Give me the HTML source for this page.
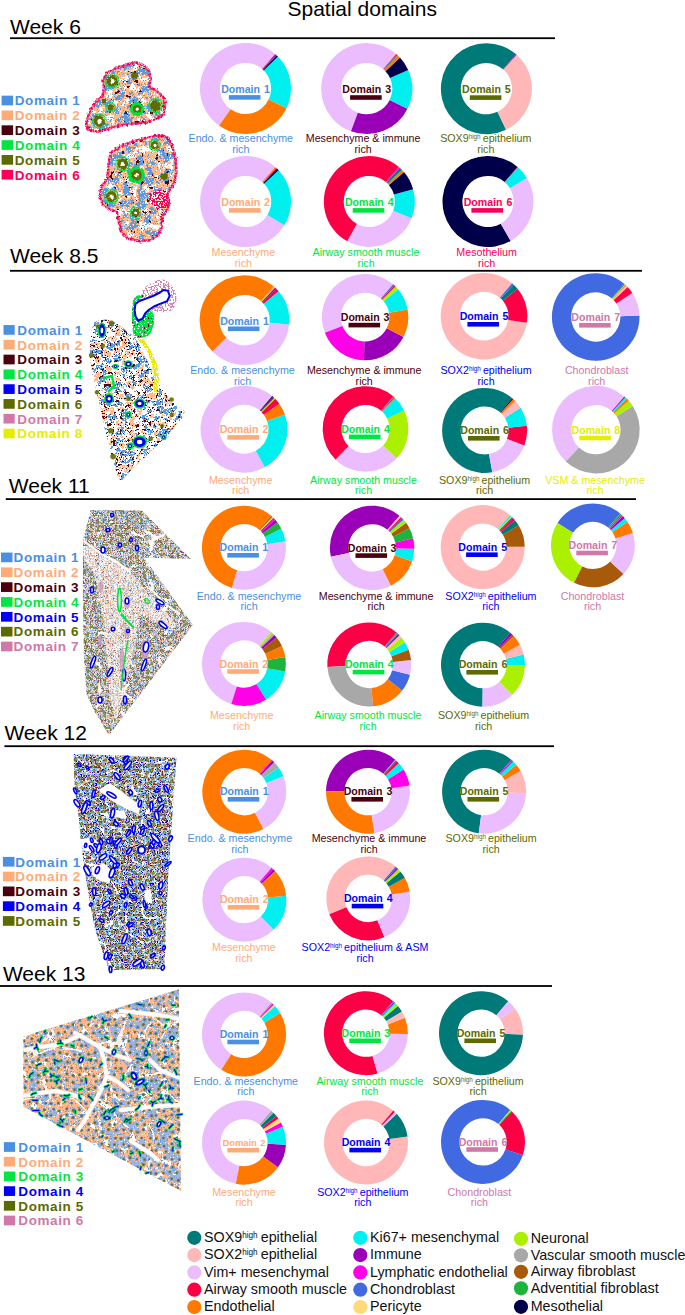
<!DOCTYPE html>
<html><head><meta charset="utf-8"><style>
html,body{margin:0;padding:0;background:#fff;}
body{width:685px;height:1315px;overflow:hidden;}
svg{display:block;font-family:"Liberation Sans",sans-serif;}
</style></head><body>
<svg width="685" height="1315" viewBox="0 0 685 1315">
<text x="287.5" y="15.5" font-size="21" fill="#000">Spatial domains</text>
<text x="10" y="34" font-size="21" fill="#000">Week 6</text><rect x="10" y="37.3" width="545" height="1.8" fill="#000"/>
<text x="10" y="262.8" font-size="21" fill="#000">Week 8.5</text><rect x="10" y="269.9" width="632" height="1.8" fill="#000"/>
<text x="8.8" y="493.4" font-size="21" fill="#000">Week 11</text><rect x="5.8" y="498.2" width="630.2" height="1.8" fill="#000"/>
<text x="4.4" y="739.9" font-size="21" fill="#000">Week 12</text><rect x="4.4" y="745.3" width="549.6" height="1.8" fill="#000"/>
<text x="2.9" y="980.7" font-size="21" fill="#000">Week 13</text><rect x="0" y="985.1" width="552" height="1.8" fill="#000"/>
<rect x="1.6" y="95.65" width="11.5" height="9.7" fill="#4a90e2"/>
<text x="14.7" y="105.30" font-size="13.5" letter-spacing="0.6" font-weight="bold" fill="#4a90e2">Domain 1</text>
<rect x="1.6" y="110.49" width="11.5" height="9.7" fill="#ffab78"/>
<text x="14.7" y="120.14" font-size="13.5" letter-spacing="0.6" font-weight="bold" fill="#ffab78">Domain 2</text>
<rect x="1.6" y="125.33" width="11.5" height="9.7" fill="#4a000e"/>
<text x="14.7" y="134.98" font-size="13.5" letter-spacing="0.6" font-weight="bold" fill="#4a000e">Domain 3</text>
<rect x="1.6" y="140.17" width="11.5" height="9.7" fill="#00e640"/>
<text x="14.7" y="149.82" font-size="13.5" letter-spacing="0.6" font-weight="bold" fill="#00e640">Domain 4</text>
<rect x="1.6" y="155.01" width="11.5" height="9.7" fill="#5c6a00"/>
<text x="14.7" y="164.66" font-size="13.5" letter-spacing="0.6" font-weight="bold" fill="#5c6a00">Domain 5</text>
<rect x="1.6" y="169.85" width="11.5" height="9.7" fill="#fb0058"/>
<text x="14.7" y="179.50" font-size="13.5" letter-spacing="0.6" font-weight="bold" fill="#fb0058">Domain 6</text>
<rect x="3.5" y="325.05" width="11.2" height="9.7" fill="#4a90e2"/>
<text x="17.3" y="334.70" font-size="13.5" letter-spacing="0.6" font-weight="bold" fill="#4a90e2">Domain 1</text>
<rect x="3.5" y="339.85" width="11.2" height="9.7" fill="#ffab78"/>
<text x="17.3" y="349.50" font-size="13.5" letter-spacing="0.6" font-weight="bold" fill="#ffab78">Domain 2</text>
<rect x="3.5" y="354.65" width="11.2" height="9.7" fill="#4a000e"/>
<text x="17.3" y="364.30" font-size="13.5" letter-spacing="0.6" font-weight="bold" fill="#4a000e">Domain 3</text>
<rect x="3.5" y="369.45" width="11.2" height="9.7" fill="#00e640"/>
<text x="17.3" y="379.10" font-size="13.5" letter-spacing="0.6" font-weight="bold" fill="#00e640">Domain 4</text>
<rect x="3.5" y="384.25" width="11.2" height="9.7" fill="#0000f5"/>
<text x="17.3" y="393.90" font-size="13.5" letter-spacing="0.6" font-weight="bold" fill="#0000f5">Domain 5</text>
<rect x="3.5" y="399.05" width="11.2" height="9.7" fill="#5c6a00"/>
<text x="17.3" y="408.70" font-size="13.5" letter-spacing="0.6" font-weight="bold" fill="#5c6a00">Domain 6</text>
<rect x="3.5" y="413.85" width="11.2" height="9.7" fill="#d078a8"/>
<text x="17.3" y="423.50" font-size="13.5" letter-spacing="0.6" font-weight="bold" fill="#d078a8">Domain 7</text>
<rect x="3.5" y="428.65" width="11.2" height="9.7" fill="#e6ee00"/>
<text x="17.3" y="438.30" font-size="13.5" letter-spacing="0.6" font-weight="bold" fill="#e6ee00">Domain 8</text>
<rect x="1" y="552.55" width="11.5" height="9.7" fill="#4a90e2"/>
<text x="13.6" y="562.20" font-size="13.5" letter-spacing="0.6" font-weight="bold" fill="#4a90e2">Domain 1</text>
<rect x="1" y="567.40" width="11.5" height="9.7" fill="#ffab78"/>
<text x="13.6" y="577.05" font-size="13.5" letter-spacing="0.6" font-weight="bold" fill="#ffab78">Domain 2</text>
<rect x="1" y="582.25" width="11.5" height="9.7" fill="#4a000e"/>
<text x="13.6" y="591.90" font-size="13.5" letter-spacing="0.6" font-weight="bold" fill="#4a000e">Domain 3</text>
<rect x="1" y="597.10" width="11.5" height="9.7" fill="#00e640"/>
<text x="13.6" y="606.75" font-size="13.5" letter-spacing="0.6" font-weight="bold" fill="#00e640">Domain 4</text>
<rect x="1" y="611.95" width="11.5" height="9.7" fill="#0000f5"/>
<text x="13.6" y="621.60" font-size="13.5" letter-spacing="0.6" font-weight="bold" fill="#0000f5">Domain 5</text>
<rect x="1" y="626.80" width="11.5" height="9.7" fill="#5c6a00"/>
<text x="13.6" y="636.45" font-size="13.5" letter-spacing="0.6" font-weight="bold" fill="#5c6a00">Domain 6</text>
<rect x="1" y="641.65" width="11.5" height="9.7" fill="#d078a8"/>
<text x="13.6" y="651.30" font-size="13.5" letter-spacing="0.6" font-weight="bold" fill="#d078a8">Domain 7</text>
<rect x="2.9" y="856.90" width="11.6" height="9.7" fill="#4a90e2"/>
<text x="15.3" y="866.55" font-size="13.5" letter-spacing="0.6" font-weight="bold" fill="#4a90e2">Domain 1</text>
<rect x="2.9" y="871.70" width="11.6" height="9.7" fill="#ffab78"/>
<text x="15.3" y="881.35" font-size="13.5" letter-spacing="0.6" font-weight="bold" fill="#ffab78">Domain 2</text>
<rect x="2.9" y="886.50" width="11.6" height="9.7" fill="#4a000e"/>
<text x="15.3" y="896.15" font-size="13.5" letter-spacing="0.6" font-weight="bold" fill="#4a000e">Domain 3</text>
<rect x="2.9" y="901.30" width="11.6" height="9.7" fill="#0000f5"/>
<text x="15.3" y="910.95" font-size="13.5" letter-spacing="0.6" font-weight="bold" fill="#0000f5">Domain 4</text>
<rect x="2.9" y="916.10" width="11.6" height="9.7" fill="#5c6a00"/>
<text x="15.3" y="925.75" font-size="13.5" letter-spacing="0.6" font-weight="bold" fill="#5c6a00">Domain 5</text>
<rect x="3.9" y="1142.15" width="11.2" height="9.7" fill="#4a90e2"/>
<text x="18.3" y="1151.80" font-size="13.5" letter-spacing="0.6" font-weight="bold" fill="#4a90e2">Domain 1</text>
<rect x="3.9" y="1156.85" width="11.2" height="9.7" fill="#ffab78"/>
<text x="18.3" y="1166.50" font-size="13.5" letter-spacing="0.6" font-weight="bold" fill="#ffab78">Domain 2</text>
<rect x="3.9" y="1171.55" width="11.2" height="9.7" fill="#00e640"/>
<text x="18.3" y="1181.20" font-size="13.5" letter-spacing="0.6" font-weight="bold" fill="#00e640">Domain 3</text>
<rect x="3.9" y="1186.25" width="11.2" height="9.7" fill="#0000f5"/>
<text x="18.3" y="1195.90" font-size="13.5" letter-spacing="0.6" font-weight="bold" fill="#0000f5">Domain 4</text>
<rect x="3.9" y="1200.95" width="11.2" height="9.7" fill="#5c6a00"/>
<text x="18.3" y="1210.60" font-size="13.5" letter-spacing="0.6" font-weight="bold" fill="#5c6a00">Domain 5</text>
<rect x="3.9" y="1215.65" width="11.2" height="9.7" fill="#d078a8"/>
<text x="18.3" y="1225.30" font-size="13.5" letter-spacing="0.6" font-weight="bold" fill="#d078a8">Domain 6</text>
<path d="M275.05,53.90A45.5,45.5 0 1,0 219.08,125.54L230.62,109.35A25.6165,25.6165 0 1,1 262.14,69.02Z" fill="#ebbdff"/>
<path d="M219.08,125.54A45.5,45.5 0 0,0 286.57,108.09L268.62,99.53A25.6165,25.6165 0 0,1 230.62,109.35Z" fill="#ff7800"/>
<path d="M286.57,108.09A45.5,45.5 0 0,0 277.95,56.61L263.77,70.55A25.6165,25.6165 0 0,1 268.62,99.53Z" fill="#00f0f0"/>
<path d="M277.95,56.61A45.5,45.5 0 0,0 276.53,55.22L262.97,69.77A25.6165,25.6165 0 0,1 263.77,70.55Z" fill="#00004a"/>
<path d="M276.53,55.22A45.5,45.5 0 0,0 275.65,54.42L262.47,69.31A25.6165,25.6165 0 0,1 262.97,69.77Z" fill="#9900b8"/>
<path d="M275.65,54.42A45.5,45.5 0 0,0 275.05,53.90L262.14,69.02A25.6165,25.6165 0 0,1 262.47,69.31Z" fill="#fb0045"/>
<text x="245.5" y="93.1" font-size="10.6" font-weight="bold" text-anchor="middle" fill="#4a90e2" word-spacing="1">Domain 1</text>
<rect x="228.9" y="95.1" width="31.6" height="4.6" fill="#4a90e2"/>
<text x="240.8" y="142.3" font-size="10.7" text-anchor="middle" fill="#4a90e2">Endo. &amp; mesenchyme</text>
<text x="240.8" y="153.0" font-size="10.7" text-anchor="middle" fill="#4a90e2">rich</text>
<path d="M396.25,54.00A45.5,45.5 0 1,0 350.99,131.30L357.85,112.64A25.6165,25.6165 0 1,1 383.34,69.12Z" fill="#ebbdff"/>
<path d="M350.99,131.30A45.5,45.5 0 0,0 407.53,108.69L389.68,99.91A25.6165,25.6165 0 0,1 357.85,112.64Z" fill="#9900b8"/>
<path d="M407.53,108.69A45.5,45.5 0 0,0 408.17,69.88L390.05,78.06A25.6165,25.6165 0 0,1 389.68,99.91Z" fill="#00f0f0"/>
<path d="M408.17,69.88A45.5,45.5 0 0,0 399.98,57.57L385.43,71.13A25.6165,25.6165 0 0,1 390.05,78.06Z" fill="#00004a"/>
<path d="M399.98,57.57A45.5,45.5 0 0,0 397.61,55.22L384.10,69.80A25.6165,25.6165 0 0,1 385.43,71.13Z" fill="#ff7800"/>
<path d="M397.61,55.22A45.5,45.5 0 0,0 396.85,54.52L383.67,69.41A25.6165,25.6165 0 0,1 384.10,69.80Z" fill="#007a78"/>
<path d="M396.85,54.52A45.5,45.5 0 0,0 396.25,54.00L383.34,69.12A25.6165,25.6165 0 0,1 383.67,69.41Z" fill="#fb0045"/>
<text x="366.7" y="93.2" font-size="10.6" font-weight="bold" text-anchor="middle" fill="#4a000e" word-spacing="1">Domain 3</text>
<rect x="350.1" y="95.2" width="31.6" height="4.6" fill="#4a000e"/>
<text x="363.1" y="142.3" font-size="10.7" text-anchor="middle" fill="#4a000e">Mesenchyme &amp; immune</text>
<text x="363.1" y="153.0" font-size="10.7" text-anchor="middle" fill="#4a000e">rich</text>
<path d="M515.95,54.10A45.5,45.5 0 1,0 506.06,129.73L497.47,111.80A25.6165,25.6165 0 1,1 503.04,69.22Z" fill="#007a78"/>
<path d="M506.06,129.73A45.5,45.5 0 0,0 516.61,54.68L503.41,69.54A25.6165,25.6165 0 0,1 497.47,111.80Z" fill="#ffb7b7"/>
<path d="M516.61,54.68A45.5,45.5 0 0,0 515.95,54.10L503.04,69.22A25.6165,25.6165 0 0,1 503.41,69.54Z" fill="#9900b8"/>
<text x="486.4" y="93.3" font-size="10.6" font-weight="bold" text-anchor="middle" fill="#5c6a00" word-spacing="1">Domain 5</text>
<rect x="469.8" y="95.3" width="31.6" height="4.6" fill="#5c6a00"/>
<text x="485.8" y="142.3" font-size="10.7" text-anchor="middle" fill="#5c6a00">SOX9<tspan font-size="6.3" dy="-3.0">high</tspan><tspan dy="3.0" font-size="7.5"> </tspan>epithelium</text>
<text x="485.8" y="153.0" font-size="10.7" text-anchor="middle" fill="#5c6a00">rich</text>
<path d="M275.15,166.90A45.5,45.5 0 1,0 284.40,225.27L267.44,214.88A25.6165,25.6165 0 1,1 262.24,182.02Z" fill="#ebbdff"/>
<path d="M284.40,225.27A45.5,45.5 0 0,0 278.60,170.18L264.18,183.87A25.6165,25.6165 0 0,1 267.44,214.88Z" fill="#00f0f0"/>
<path d="M278.60,170.18A45.5,45.5 0 0,0 276.92,168.50L263.23,182.92A25.6165,25.6165 0 0,1 264.18,183.87Z" fill="#00004a"/>
<path d="M276.92,168.50A45.5,45.5 0 0,0 276.05,167.69L262.74,182.46A25.6165,25.6165 0 0,1 263.23,182.92Z" fill="#fb0045"/>
<path d="M276.05,167.69A45.5,45.5 0 0,0 275.15,166.90L262.24,182.02A25.6165,25.6165 0 0,1 262.74,182.46Z" fill="#ff7800"/>
<text x="245.6" y="206.1" font-size="10.6" font-weight="bold" text-anchor="middle" fill="#ffab78" word-spacing="1">Domain 2</text>
<rect x="229.0" y="208.1" width="31.6" height="4.6" fill="#ffab78"/>
<text x="243.4" y="255.8" font-size="10.7" text-anchor="middle" fill="#ffab78">Mesenchyme</text>
<text x="243.4" y="266.5" font-size="10.7" text-anchor="middle" fill="#ffab78">rich</text>
<path d="M398.85,166.90A45.5,45.5 0 1,0 347.37,241.37L356.96,223.95A25.6165,25.6165 0 1,1 385.94,182.02Z" fill="#fb0045"/>
<path d="M347.37,241.37A45.5,45.5 0 0,0 411.65,218.14L393.14,210.87A25.6165,25.6165 0 0,1 356.96,223.95Z" fill="#ebbdff"/>
<path d="M411.65,218.14A45.5,45.5 0 0,0 413.11,189.20L393.96,194.58A25.6165,25.6165 0 0,1 393.14,210.87Z" fill="#00f0f0"/>
<path d="M413.11,189.20A45.5,45.5 0 0,0 404.02,172.09L388.85,184.94A25.6165,25.6165 0 0,1 393.96,194.58Z" fill="#00004a"/>
<path d="M404.02,172.09A45.5,45.5 0 0,0 401.87,169.73L387.64,183.62A25.6165,25.6165 0 0,1 388.85,184.94Z" fill="#ff7800"/>
<path d="M401.87,169.73A45.5,45.5 0 0,0 399.75,167.69L386.44,182.46A25.6165,25.6165 0 0,1 387.64,183.62Z" fill="#007a78"/>
<path d="M399.75,167.69A45.5,45.5 0 0,0 398.85,166.90L385.94,182.02A25.6165,25.6165 0 0,1 386.44,182.46Z" fill="#ff00e8"/>
<text x="369.3" y="206.1" font-size="10.6" font-weight="bold" text-anchor="middle" fill="#00e640" word-spacing="1">Domain 4</text>
<rect x="352.7" y="208.1" width="31.6" height="4.6" fill="#00e640"/>
<text x="366.0" y="255.8" font-size="10.7" text-anchor="middle" fill="#00e640">Airway smooth muscle</text>
<text x="366.0" y="266.5" font-size="10.7" text-anchor="middle" fill="#00e640">rich</text>
<path d="M517.55,166.90A45.5,45.5 0 1,0 510.68,240.94L500.77,223.71A25.6165,25.6165 0 1,1 504.64,182.02Z" fill="#00004a"/>
<path d="M510.68,240.94A45.5,45.5 0 0,0 526.92,177.93L509.91,188.23A25.6165,25.6165 0 0,1 500.77,223.71Z" fill="#ebbdff"/>
<path d="M526.92,177.93A45.5,45.5 0 0,0 517.97,167.27L504.87,182.23A25.6165,25.6165 0 0,1 509.91,188.23Z" fill="#00f0f0"/>
<path d="M517.97,167.27A45.5,45.5 0 0,0 517.55,166.90L504.64,182.02A25.6165,25.6165 0 0,1 504.87,182.23Z" fill="#fb0045"/>
<text x="488.0" y="206.1" font-size="10.6" font-weight="bold" text-anchor="middle" fill="#fb0058" word-spacing="1">Domain 6</text>
<rect x="471.4" y="208.1" width="31.6" height="4.6" fill="#fb0058"/>
<text x="486.6" y="255.8" font-size="10.7" text-anchor="middle" fill="#fb0058">Mesothelium</text>
<text x="486.6" y="266.5" font-size="10.7" text-anchor="middle" fill="#fb0058">rich</text>
<path d="M273.60,286.13A44.8,44.8 0 0,0 212.53,351.59L226.50,337.87A25.222399999999997,25.222399999999997 0 0,1 260.88,301.02Z" fill="#ff7800"/>
<path d="M212.53,351.59A44.8,44.8 0 0,0 289.08,324.61L269.60,322.68A25.222399999999997,25.222399999999997 0 0,1 226.50,337.87Z" fill="#ebbdff"/>
<path d="M289.08,324.61A44.8,44.8 0 0,0 278.59,291.13L263.69,303.83A25.222399999999997,25.222399999999997 0 0,1 269.60,322.68Z" fill="#00f0f0"/>
<path d="M278.59,291.13A44.8,44.8 0 0,0 276.47,288.81L262.50,302.53A25.222399999999997,25.222399999999997 0 0,1 263.69,303.83Z" fill="#fb0045"/>
<path d="M276.47,288.81A44.8,44.8 0 0,0 275.06,287.44L261.71,301.76A25.222399999999997,25.222399999999997 0 0,1 262.50,302.53Z" fill="#9900b8"/>
<path d="M275.06,287.44A44.8,44.8 0 0,0 274.19,286.65L261.21,301.31A25.222399999999997,25.222399999999997 0 0,1 261.71,301.76Z" fill="#aaf000"/>
<path d="M274.19,286.65A44.8,44.8 0 0,0 273.60,286.13L260.88,301.02A25.222399999999997,25.222399999999997 0 0,1 261.21,301.31Z" fill="#ff7800"/>
<text x="244.5" y="324.6" font-size="10.6" font-weight="bold" text-anchor="middle" fill="#4a90e2" word-spacing="1">Domain 1</text>
<rect x="227.9" y="326.5" width="31.6" height="4.6" fill="#4a90e2"/>
<text x="242.5" y="373.8" font-size="10.7" text-anchor="middle" fill="#4a90e2">Endo. &amp; mesenchyme</text>
<text x="242.5" y="384.5" font-size="10.7" text-anchor="middle" fill="#4a90e2">rich</text>
<path d="M393.16,284.25A43.2,43.2 0 0,0 324.87,332.85L342.45,325.97A24.3216,24.3216 0 0,1 380.90,298.61Z" fill="#ebbdff"/>
<path d="M324.87,332.85A43.2,43.2 0 0,0 363.91,360.28L364.43,341.41A24.3216,24.3216 0 0,1 342.45,325.97Z" fill="#ff00e8"/>
<path d="M363.91,360.28A43.2,43.2 0 0,0 403.51,336.88L386.72,328.23A24.3216,24.3216 0 0,1 364.43,341.41Z" fill="#9900b8"/>
<path d="M403.51,336.88A43.2,43.2 0 0,0 407.62,309.47L389.04,312.80A24.3216,24.3216 0 0,1 386.72,328.23Z" fill="#ff7800"/>
<path d="M407.62,309.47A43.2,43.2 0 0,0 398.05,289.16L383.65,301.37A24.3216,24.3216 0 0,1 389.04,312.80Z" fill="#00f0f0"/>
<path d="M398.05,289.16A43.2,43.2 0 0,0 395.49,286.39L382.21,299.81A24.3216,24.3216 0 0,1 383.65,301.37Z" fill="#aaf000"/>
<path d="M395.49,286.39A43.2,43.2 0 0,0 394.29,285.25L381.53,299.17A24.3216,24.3216 0 0,1 382.21,299.81Z" fill="#fb0045"/>
<path d="M394.29,285.25A43.2,43.2 0 0,0 393.16,284.25L380.90,298.61A24.3216,24.3216 0 0,1 381.53,299.17Z" fill="#4169e1"/>
<text x="365.1" y="321.0" font-size="10.6" font-weight="bold" text-anchor="middle" fill="#4a000e" word-spacing="1">Domain 3</text>
<rect x="348.5" y="322.8" width="31.6" height="4.6" fill="#4a000e"/>
<text x="364.2" y="373.8" font-size="10.7" text-anchor="middle" fill="#4a000e">Mesenchyme &amp; immune</text>
<text x="364.2" y="384.5" font-size="10.7" text-anchor="middle" fill="#4a000e">rich</text>
<path d="M512.12,283.27A43.3,43.3 0 1,0 526.80,322.76L508.10,319.89A24.377899999999997,24.377899999999997 0 1,1 499.83,297.66Z" fill="#ffb7b7"/>
<path d="M526.80,322.76A43.3,43.3 0 0,0 517.56,288.83L502.89,300.79A24.377899999999997,24.377899999999997 0 0,1 508.10,319.89Z" fill="#fb0045"/>
<path d="M517.56,288.83A43.3,43.3 0 0,0 513.75,284.74L500.75,298.49A24.377899999999997,24.377899999999997 0 0,1 502.89,300.79Z" fill="#007a78"/>
<path d="M513.75,284.74A43.3,43.3 0 0,0 512.12,283.27L499.83,297.66A24.377899999999997,24.377899999999997 0 0,1 500.75,298.49Z" fill="#4169e1"/>
<text x="484.0" y="320.2" font-size="10.6" font-weight="bold" text-anchor="middle" fill="#0000f5" word-spacing="1">Domain 5</text>
<rect x="467.4" y="322.0" width="31.6" height="4.6" fill="#0000f5"/>
<text x="486.0" y="373.8" font-size="10.7" text-anchor="middle" fill="#0000f5">SOX2<tspan font-size="6.3" dy="-3.0">high</tspan><tspan dy="3.0" font-size="7.5"> </tspan>epithelium</text>
<text x="486.0" y="384.5" font-size="10.7" text-anchor="middle" fill="#0000f5">rich</text>
<path d="M624.15,283.69A43.8,43.8 0 1,0 639.48,315.57L620.35,316.20A24.659399999999994,24.659399999999994 0 1,1 611.71,298.25Z" fill="#4169e1"/>
<path d="M639.48,315.57A43.8,43.8 0 0,0 632.37,293.05L616.34,303.51A24.659399999999994,24.659399999999994 0 0,1 620.35,316.20Z" fill="#ebbdff"/>
<path d="M632.37,293.05A43.8,43.8 0 0,0 627.64,287.03L613.68,300.12A24.659399999999994,24.659399999999994 0 0,1 616.34,303.51Z" fill="#fb0045"/>
<path d="M627.64,287.03A43.8,43.8 0 0,0 626.24,285.60L612.89,299.32A24.659399999999994,24.659399999999994 0 0,1 613.68,300.12Z" fill="#ffb7b7"/>
<path d="M626.24,285.60A43.8,43.8 0 0,0 625.41,284.81L612.42,298.88A24.659399999999994,24.659399999999994 0 0,1 612.89,299.32Z" fill="#ff7800"/>
<path d="M625.41,284.81A43.8,43.8 0 0,0 624.72,284.20L612.04,298.53A24.659399999999994,24.659399999999994 0 0,1 612.42,298.88Z" fill="#aaf000"/>
<path d="M624.72,284.20A43.8,43.8 0 0,0 624.15,283.69L611.71,298.25A24.659399999999994,24.659399999999994 0 0,1 612.04,298.53Z" fill="#007a78"/>
<text x="595.7" y="321.1" font-size="10.6" font-weight="bold" text-anchor="middle" fill="#d078a8" word-spacing="1">Domain 7</text>
<rect x="579.1" y="323.0" width="31.6" height="4.6" fill="#d078a8"/>
<text x="596.7" y="373.8" font-size="10.7" text-anchor="middle" fill="#d078a8">Chondroblast</text>
<text x="596.7" y="384.5" font-size="10.7" text-anchor="middle" fill="#d078a8">rich</text>
<path d="M272.25,396.12A43.5,43.5 0 1,0 264.89,467.36L255.76,450.68A24.490499999999997,24.490499999999997 0 1,1 259.91,410.58Z" fill="#ebbdff"/>
<path d="M264.89,467.36A43.5,43.5 0 0,0 284.98,414.61L267.07,420.98A24.490499999999997,24.490499999999997 0 0,1 255.76,450.68Z" fill="#00f0f0"/>
<path d="M284.98,414.61A43.5,43.5 0 0,0 279.24,403.69L263.84,414.84A24.490499999999997,24.490499999999997 0 0,1 267.07,420.98Z" fill="#ff7800"/>
<path d="M279.24,403.69A43.5,43.5 0 0,0 275.19,398.87L261.56,412.13A24.490499999999997,24.490499999999997 0 0,1 263.84,414.84Z" fill="#fb0045"/>
<path d="M275.19,398.87A43.5,43.5 0 0,0 274.22,397.91L261.01,411.58A24.490499999999997,24.490499999999997 0 0,1 261.56,412.13Z" fill="#aaf000"/>
<path d="M274.22,397.91A43.5,43.5 0 0,0 273.11,396.87L260.39,411.00A24.490499999999997,24.490499999999997 0 0,1 261.01,411.58Z" fill="#9900b8"/>
<path d="M273.11,396.87A43.5,43.5 0 0,0 272.25,396.12L259.91,410.58A24.490499999999997,24.490499999999997 0 0,1 260.39,411.00Z" fill="#00004a"/>
<text x="244.0" y="433.2" font-size="10.6" font-weight="bold" text-anchor="middle" fill="#ffab78" word-spacing="1">Domain 2</text>
<rect x="227.4" y="435.1" width="31.6" height="4.6" fill="#ffab78"/>
<text x="240.7" y="483.5" font-size="10.7" text-anchor="middle" fill="#ffab78">Mesenchyme</text>
<text x="240.7" y="494.2" font-size="10.7" text-anchor="middle" fill="#ffab78">rich</text>
<path d="M393.30,396.45A42.8,42.8 0 0,0 335.66,459.68L348.70,446.27A24.096399999999996,24.096399999999996 0 0,1 381.15,410.68Z" fill="#fb0045"/>
<path d="M335.66,459.68A42.8,42.8 0 0,0 396.70,458.30L383.07,445.50A24.096399999999996,24.096399999999996 0 0,1 348.70,446.27Z" fill="#ebbdff"/>
<path d="M396.70,458.30A42.8,42.8 0 0,0 404.07,410.44L387.21,418.55A24.096399999999996,24.096399999999996 0 0,1 383.07,445.50Z" fill="#aaf000"/>
<path d="M404.07,410.44A42.8,42.8 0 0,0 395.61,398.58L382.45,411.87A24.096399999999996,24.096399999999996 0 0,1 387.21,418.55Z" fill="#00f0f0"/>
<path d="M395.61,398.58A42.8,42.8 0 0,0 394.53,397.55L381.84,411.29A24.096399999999996,24.096399999999996 0 0,1 382.45,411.87Z" fill="#ff7800"/>
<path d="M394.53,397.55A42.8,42.8 0 0,0 393.86,396.94L381.47,410.95A24.096399999999996,24.096399999999996 0 0,1 381.84,411.29Z" fill="#9900b8"/>
<path d="M393.86,396.94A42.8,42.8 0 0,0 393.30,396.45L381.15,410.68A24.096399999999996,24.096399999999996 0 0,1 381.47,410.95Z" fill="#4169e1"/>
<text x="365.5" y="432.8" font-size="10.6" font-weight="bold" text-anchor="middle" fill="#00e640" word-spacing="1">Domain 4</text>
<rect x="348.9" y="434.6" width="31.6" height="4.6" fill="#00e640"/>
<text x="363.5" y="483.5" font-size="10.7" text-anchor="middle" fill="#00e640">Airway smooth muscle</text>
<text x="363.5" y="494.2" font-size="10.7" text-anchor="middle" fill="#00e640">rich</text>
<path d="M512.20,398.18A42.5,42.5 0 1,0 492.35,472.29L488.96,454.03A23.9275,23.9275 0 1,1 500.14,412.31Z" fill="#007a78"/>
<path d="M492.35,472.29A42.5,42.5 0 0,0 524.38,445.45L507.00,438.92A23.9275,23.9275 0 0,1 488.96,454.03Z" fill="#ebbdff"/>
<path d="M524.38,445.45A42.5,42.5 0 0,0 526.84,425.76L508.38,427.83A23.9275,23.9275 0 0,1 507.00,438.92Z" fill="#fb0045"/>
<path d="M526.84,425.76A42.5,42.5 0 0,0 520.56,407.85L504.85,417.75A23.9275,23.9275 0 0,1 508.38,427.83Z" fill="#00f0f0"/>
<path d="M520.56,407.85A42.5,42.5 0 0,0 515.17,400.98L501.81,413.88A23.9275,23.9275 0 0,1 504.85,417.75Z" fill="#ffb7b7"/>
<path d="M515.17,400.98A42.5,42.5 0 0,0 513.15,399.02L500.67,412.77A23.9275,23.9275 0 0,1 501.81,413.88Z" fill="#ff7800"/>
<path d="M513.15,399.02A42.5,42.5 0 0,0 512.20,398.18L500.14,412.31A23.9275,23.9275 0 0,1 500.67,412.77Z" fill="#00004a"/>
<text x="484.6" y="434.2" font-size="10.6" font-weight="bold" text-anchor="middle" fill="#5c6a00" word-spacing="1">Domain 6</text>
<rect x="468.0" y="436.0" width="31.6" height="4.6" fill="#5c6a00"/>
<text x="484.6" y="483.5" font-size="10.7" text-anchor="middle" fill="#5c6a00">SOX9<tspan font-size="6.3" dy="-3.0">high</tspan><tspan dy="3.0" font-size="7.5"> </tspan>epithelium</text>
<text x="484.6" y="494.2" font-size="10.7" text-anchor="middle" fill="#5c6a00">rich</text>
<path d="M624.35,396.39A43.8,43.8 0 0,0 565.78,461.50L578.94,447.60A24.659399999999994,24.659399999999994 0 0,1 611.91,410.95Z" fill="#ebbdff"/>
<path d="M565.78,461.50A43.8,43.8 0 0,0 632.73,405.99L616.63,416.35A24.659399999999994,24.659399999999994 0 0,1 578.94,447.60Z" fill="#a8a8a8"/>
<path d="M632.73,405.99A43.8,43.8 0 0,0 628.76,400.74L614.40,413.40A24.659399999999994,24.659399999999994 0 0,1 616.63,416.35Z" fill="#aaf000"/>
<path d="M628.76,400.74A43.8,43.8 0 0,0 626.77,398.62L613.28,412.20A24.659399999999994,24.659399999999994 0 0,1 614.40,413.40Z" fill="#ff7800"/>
<path d="M626.77,398.62A43.8,43.8 0 0,0 625.21,397.15L612.40,411.38A24.659399999999994,24.659399999999994 0 0,1 613.28,412.20Z" fill="#00f0f0"/>
<path d="M625.21,397.15A43.8,43.8 0 0,0 624.35,396.39L611.91,410.95A24.659399999999994,24.659399999999994 0 0,1 612.40,411.38Z" fill="#9900b8"/>
<text x="595.9" y="433.8" font-size="10.6" font-weight="bold" text-anchor="middle" fill="#e6ee00" word-spacing="1">Domain 8</text>
<rect x="579.3" y="435.7" width="31.6" height="4.6" fill="#e6ee00"/>
<text x="595.1" y="483.5" font-size="10.7" text-anchor="middle" fill="#e6ee00">VSM &amp; mesenchyme</text>
<text x="595.1" y="494.2" font-size="10.7" text-anchor="middle" fill="#e6ee00">rich</text>
<path d="M271.18,515.76A42,42 0 1,0 231.95,587.97L237.17,570.37A23.645999999999997,23.645999999999997 0 1,1 259.26,529.72Z" fill="#ff7800"/>
<path d="M231.95,587.97A42,42 0 0,0 285.42,541.36L267.27,544.13A23.645999999999997,23.645999999999997 0 0,1 237.17,570.37Z" fill="#ebbdff"/>
<path d="M285.42,541.36A42,42 0 0,0 281.26,528.51L264.93,536.90A23.645999999999997,23.645999999999997 0 0,1 267.27,544.13Z" fill="#00f0f0"/>
<path d="M281.26,528.51A42,42 0 0,0 277.29,522.23L262.70,533.36A23.645999999999997,23.645999999999997 0 0,1 264.93,536.90Z" fill="#1db33d"/>
<path d="M277.29,522.23A42,42 0 0,0 275.28,519.78L261.57,531.98A23.645999999999997,23.645999999999997 0 0,1 262.70,533.36Z" fill="#9900b8"/>
<path d="M275.28,519.78A42,42 0 0,0 273.35,517.75L260.48,530.84A23.645999999999997,23.645999999999997 0 0,1 261.57,531.98Z" fill="#ff00e8"/>
<path d="M273.35,517.75A42,42 0 0,0 272.28,516.74L259.88,530.27A23.645999999999997,23.645999999999997 0 0,1 260.48,530.84Z" fill="#aaf000"/>
<path d="M272.28,516.74A42,42 0 0,0 271.18,515.76L259.26,529.72A23.645999999999997,23.645999999999997 0 0,1 259.88,530.27Z" fill="#a65a0a"/>
<text x="243.9" y="551.3" font-size="10.6" font-weight="bold" text-anchor="middle" fill="#4a90e2" word-spacing="1">Domain 1</text>
<rect x="227.3" y="553.0" width="31.6" height="4.6" fill="#4a90e2"/>
<text x="249.0" y="599.6" font-size="10.7" text-anchor="middle" fill="#4a90e2">Endo. &amp; mesenchyme</text>
<text x="249.0" y="610.3" font-size="10.7" text-anchor="middle" fill="#4a90e2">rich</text>
<path d="M399.51,515.81A42.2,42.2 0 0,0 330.86,556.85L348.88,552.94A23.758599999999998,23.758599999999998 0 0,1 387.53,529.83Z" fill="#9900b8"/>
<path d="M330.86,556.85A42.2,42.2 0 0,0 390.97,585.64L382.73,569.15A23.758599999999998,23.758599999999998 0 0,1 348.88,552.94Z" fill="#ebbdff"/>
<path d="M390.97,585.64A42.2,42.2 0 0,0 412.16,561.16L394.65,555.37A23.758599999999998,23.758599999999998 0 0,1 382.73,569.15Z" fill="#ff7800"/>
<path d="M412.16,561.16A42.2,42.2 0 0,0 414.29,548.79L395.85,548.40A23.758599999999998,23.758599999999998 0 0,1 394.65,555.37Z" fill="#00f0f0"/>
<path d="M414.29,548.79A42.2,42.2 0 0,0 413.15,538.13L395.21,542.40A23.758599999999998,23.758599999999998 0 0,1 395.85,548.40Z" fill="#ff00e8"/>
<path d="M413.15,538.13A42.2,42.2 0 0,0 409.47,528.29L393.14,536.86A23.758599999999998,23.758599999999998 0 0,1 395.21,542.40Z" fill="#1db33d"/>
<path d="M409.47,528.29A42.2,42.2 0 0,0 406.07,522.86L391.22,533.80A23.758599999999998,23.758599999999998 0 0,1 393.14,536.86Z" fill="#a65a0a"/>
<path d="M406.07,522.86A42.2,42.2 0 0,0 403.51,519.72L389.78,532.03A23.758599999999998,23.758599999999998 0 0,1 391.22,533.80Z" fill="#aaf000"/>
<path d="M403.51,519.72A42.2,42.2 0 0,0 402.20,518.32L389.05,531.25A23.758599999999998,23.758599999999998 0 0,1 389.78,532.03Z" fill="#4169e1"/>
<path d="M402.20,518.32A42.2,42.2 0 0,0 400.88,517.04L388.30,530.52A23.758599999999998,23.758599999999998 0 0,1 389.05,531.25Z" fill="#fb0045"/>
<path d="M400.88,517.04A42.2,42.2 0 0,0 399.51,515.81L387.53,529.83A23.758599999999998,23.758599999999998 0 0,1 388.30,530.52Z" fill="#ffb7b7"/>
<text x="372.1" y="551.6" font-size="10.6" font-weight="bold" text-anchor="middle" fill="#4a000e" word-spacing="1">Domain 3</text>
<rect x="355.5" y="553.3" width="31.6" height="4.6" fill="#4a000e"/>
<text x="376.1" y="599.6" font-size="10.7" text-anchor="middle" fill="#4a000e">Mesenchyme &amp; immune</text>
<text x="376.1" y="610.3" font-size="10.7" text-anchor="middle" fill="#4a000e">rich</text>
<path d="M509.98,515.16A42,42 0 1,0 524.70,546.68L506.34,546.87A23.645999999999997,23.645999999999997 0 1,1 498.06,529.12Z" fill="#ffb7b7"/>
<path d="M524.70,546.68A42,42 0 0,0 518.62,525.33L502.92,534.85A23.645999999999997,23.645999999999997 0 0,1 506.34,546.87Z" fill="#a65a0a"/>
<path d="M518.62,525.33A42,42 0 0,0 514.90,520.13L500.83,531.91A23.645999999999997,23.645999999999997 0 0,1 502.92,534.85Z" fill="#007a78"/>
<path d="M514.90,520.13A42,42 0 0,0 513.08,518.10L499.80,530.77A23.645999999999997,23.645999999999997 0 0,1 500.83,531.91Z" fill="#fb0045"/>
<path d="M513.08,518.10A42,42 0 0,0 512.15,517.15L499.28,530.24A23.645999999999997,23.645999999999997 0 0,1 499.80,530.77Z" fill="#9900b8"/>
<path d="M512.15,517.15A42,42 0 0,0 511.08,516.14L498.68,529.67A23.645999999999997,23.645999999999997 0 0,1 499.28,530.24Z" fill="#aaf000"/>
<path d="M511.08,516.14A42,42 0 0,0 509.98,515.16L498.06,529.12A23.645999999999997,23.645999999999997 0 0,1 498.68,529.67Z" fill="#00f0f0"/>
<text x="482.7" y="550.7" font-size="10.6" font-weight="bold" text-anchor="middle" fill="#0000f5" word-spacing="1">Domain 5</text>
<rect x="466.1" y="552.4" width="31.6" height="4.6" fill="#0000f5"/>
<text x="490.9" y="599.6" font-size="10.7" text-anchor="middle" fill="#0000f5">SOX2<tspan font-size="6.3" dy="-3.0">high</tspan><tspan dy="3.0" font-size="7.5"> </tspan>epithelium</text>
<text x="490.9" y="610.3" font-size="10.7" text-anchor="middle" fill="#0000f5">rich</text>
<path d="M620.11,513.54A41.9,41.9 0 0,0 557.50,522.98L572.97,532.78A23.589699999999997,23.589699999999997 0 0,1 608.22,527.46Z" fill="#4169e1"/>
<path d="M557.50,522.98A41.9,41.9 0 0,0 574.07,582.83L582.30,566.47A23.589699999999997,23.589699999999997 0 0,1 572.97,532.78Z" fill="#aaf000"/>
<path d="M574.07,582.83A41.9,41.9 0 0,0 623.53,573.99L610.14,561.50A23.589699999999997,23.589699999999997 0 0,1 582.30,566.47Z" fill="#a65a0a"/>
<path d="M623.53,573.99A41.9,41.9 0 0,0 632.91,532.95L615.42,538.39A23.589699999999997,23.589699999999997 0 0,1 610.14,561.50Z" fill="#ebbdff"/>
<path d="M632.91,532.95A41.9,41.9 0 0,0 627.45,521.70L612.35,532.06A23.589699999999997,23.589699999999997 0 0,1 615.42,538.39Z" fill="#ff7800"/>
<path d="M627.45,521.70A41.9,41.9 0 0,0 624.73,518.15L610.82,530.06A23.589699999999997,23.589699999999997 0 0,1 612.35,532.06Z" fill="#00f0f0"/>
<path d="M624.73,518.15A41.9,41.9 0 0,0 623.05,516.30L609.87,529.02A23.589699999999997,23.589699999999997 0 0,1 610.82,530.06Z" fill="#9900b8"/>
<path d="M623.05,516.30A41.9,41.9 0 0,0 621.75,515.01L609.14,528.29A23.589699999999997,23.589699999999997 0 0,1 609.87,529.02Z" fill="#ff00e8"/>
<path d="M621.75,515.01A41.9,41.9 0 0,0 620.11,513.54L608.22,527.46A23.589699999999997,23.589699999999997 0 0,1 609.14,528.29Z" fill="#1db33d"/>
<text x="592.9" y="549.0" font-size="10.6" font-weight="bold" text-anchor="middle" fill="#d078a8" word-spacing="1">Domain 7</text>
<rect x="576.3" y="550.7" width="31.6" height="4.6" fill="#d078a8"/>
<text x="592.5" y="599.6" font-size="10.7" text-anchor="middle" fill="#d078a8">Chondroblast</text>
<text x="592.5" y="610.3" font-size="10.7" text-anchor="middle" fill="#d078a8">rich</text>
<path d="M271.18,631.96A42,42 0 1,0 231.31,703.97L236.81,686.46A23.645999999999997,23.645999999999997 0 1,1 259.26,645.92Z" fill="#ebbdff"/>
<path d="M231.31,703.97A42,42 0 0,0 266.26,699.45L256.49,683.92A23.645999999999997,23.645999999999997 0 0,1 236.81,686.46Z" fill="#ff00e8"/>
<path d="M266.26,699.45A42,42 0 0,0 285.21,671.49L267.16,668.18A23.645999999999997,23.645999999999997 0 0,1 256.49,683.92Z" fill="#00f0f0"/>
<path d="M285.21,671.49A42,42 0 0,0 285.35,657.12L267.24,660.08A23.645999999999997,23.645999999999997 0 0,1 267.16,668.18Z" fill="#1db33d"/>
<path d="M285.35,657.12A42,42 0 0,0 281.94,646.09L265.31,653.87A23.645999999999997,23.645999999999997 0 0,1 267.24,660.08Z" fill="#ff7800"/>
<path d="M281.94,646.09A42,42 0 0,0 276.59,637.53L262.30,649.05A23.645999999999997,23.645999999999997 0 0,1 265.31,653.87Z" fill="#a65a0a"/>
<path d="M276.59,637.53A42,42 0 0,0 274.37,634.99L261.05,647.62A23.645999999999997,23.645999999999997 0 0,1 262.30,649.05Z" fill="#9900b8"/>
<path d="M274.37,634.99A42,42 0 0,0 272.81,633.43L260.18,646.75A23.645999999999997,23.645999999999997 0 0,1 261.05,647.62Z" fill="#a8a8a8"/>
<path d="M272.81,633.43A42,42 0 0,0 271.18,631.96L259.26,645.92A23.645999999999997,23.645999999999997 0 0,1 260.18,646.75Z" fill="#aaf000"/>
<text x="243.9" y="667.5" font-size="10.6" font-weight="bold" text-anchor="middle" fill="#ffab78" word-spacing="1">Domain 2</text>
<rect x="227.3" y="669.2" width="31.6" height="4.6" fill="#ffab78"/>
<text x="241.7" y="719.3" font-size="10.7" text-anchor="middle" fill="#ffab78">Mesenchyme</text>
<text x="241.7" y="730.0" font-size="10.7" text-anchor="middle" fill="#ffab78">rich</text>
<path d="M396.58,632.56A42,42 0 0,0 327.38,667.10L345.70,665.96A23.645999999999997,23.645999999999997 0 0,1 384.66,646.52Z" fill="#fb0045"/>
<path d="M327.38,667.10A42,42 0 0,0 373.07,706.33L371.42,688.05A23.645999999999997,23.645999999999997 0 0,1 345.70,665.96Z" fill="#a8a8a8"/>
<path d="M373.07,706.33A42,42 0 0,0 402.22,690.59L387.83,679.19A23.645999999999997,23.645999999999997 0 0,1 371.42,688.05Z" fill="#ff7800"/>
<path d="M402.22,690.59A42,42 0 0,0 410.00,674.85L392.22,670.33A23.645999999999997,23.645999999999997 0 0,1 387.83,679.19Z" fill="#4169e1"/>
<path d="M410.00,674.85A42,42 0 0,0 411.06,660.00L392.81,661.97A23.645999999999997,23.645999999999997 0 0,1 392.22,670.33Z" fill="#ebbdff"/>
<path d="M411.06,660.00A42,42 0 0,0 408.60,649.68L391.42,656.15A23.645999999999997,23.645999999999997 0 0,1 392.81,661.97Z" fill="#a65a0a"/>
<path d="M408.60,649.68A42,42 0 0,0 404.89,642.19L389.34,651.94A23.645999999999997,23.645999999999997 0 0,1 391.42,656.15Z" fill="#00f0f0"/>
<path d="M404.89,642.19A42,42 0 0,0 401.43,637.45L387.39,649.27A23.645999999999997,23.645999999999997 0 0,1 389.34,651.94Z" fill="#aaf000"/>
<path d="M401.43,637.45A42,42 0 0,0 399.52,635.33L386.31,648.08A23.645999999999997,23.645999999999997 0 0,1 387.39,649.27Z" fill="#ffb7b7"/>
<path d="M399.52,635.33A42,42 0 0,0 398.21,634.04L385.58,647.35A23.645999999999997,23.645999999999997 0 0,1 386.31,648.08Z" fill="#9900b8"/>
<path d="M398.21,634.04A42,42 0 0,0 397.13,633.04L384.97,646.79A23.645999999999997,23.645999999999997 0 0,1 385.58,647.35Z" fill="#1db33d"/>
<path d="M397.13,633.04A42,42 0 0,0 396.58,632.56L384.66,646.52A23.645999999999997,23.645999999999997 0 0,1 384.97,646.79Z" fill="#4169e1"/>
<text x="369.3" y="668.1" font-size="10.6" font-weight="bold" text-anchor="middle" fill="#00e640" word-spacing="1">Domain 4</text>
<rect x="352.7" y="669.8" width="31.6" height="4.6" fill="#00e640"/>
<text x="368.0" y="719.3" font-size="10.7" text-anchor="middle" fill="#00e640">Airway smooth muscle</text>
<text x="368.0" y="730.0" font-size="10.7" text-anchor="middle" fill="#00e640">rich</text>
<path d="M510.28,632.76A42,42 0 1,0 482.46,706.70L482.70,688.34A23.645999999999997,23.645999999999997 0 1,1 498.36,646.72Z" fill="#007a78"/>
<path d="M482.46,706.70A42,42 0 0,0 512.32,694.77L499.51,681.63A23.645999999999997,23.645999999999997 0 0,1 482.70,688.34Z" fill="#ebbdff"/>
<path d="M512.32,694.77A42,42 0 0,0 524.99,665.74L506.64,665.28A23.645999999999997,23.645999999999997 0 0,1 499.51,681.63Z" fill="#aaf000"/>
<path d="M524.99,665.74A42,42 0 0,0 523.72,654.40L505.92,658.90A23.645999999999997,23.645999999999997 0 0,1 506.64,665.28Z" fill="#00f0f0"/>
<path d="M523.72,654.40A42,42 0 0,0 520.02,644.86L503.84,653.53A23.645999999999997,23.645999999999997 0 0,1 505.92,658.90Z" fill="#ffb7b7"/>
<path d="M520.02,644.86A42,42 0 0,0 513.97,636.33L500.43,648.73A23.645999999999997,23.645999999999997 0 0,1 503.84,653.53Z" fill="#ff7800"/>
<path d="M513.97,636.33A42,42 0 0,0 512.44,634.74L499.57,647.83A23.645999999999997,23.645999999999997 0 0,1 500.43,648.73Z" fill="#a65a0a"/>
<path d="M512.44,634.74A42,42 0 0,0 510.28,632.76L498.36,646.72A23.645999999999997,23.645999999999997 0 0,1 499.57,647.83Z" fill="#9900b8"/>
<text x="483.0" y="668.3" font-size="10.6" font-weight="bold" text-anchor="middle" fill="#5c6a00" word-spacing="1">Domain 6</text>
<rect x="466.4" y="670.0" width="31.6" height="4.6" fill="#5c6a00"/>
<text x="483.6" y="719.3" font-size="10.7" text-anchor="middle" fill="#5c6a00">SOX9<tspan font-size="6.3" dy="-3.0">high</tspan><tspan dy="3.0" font-size="7.5"> </tspan>epithelium</text>
<text x="483.6" y="730.0" font-size="10.7" text-anchor="middle" fill="#5c6a00">rich</text>
<path d="M271.58,759.76A42,42 0 1,0 263.37,829.12L255.04,812.77A23.645999999999997,23.645999999999997 0 1,1 259.66,773.72Z" fill="#ff7800"/>
<path d="M263.37,829.12A42,42 0 0,0 283.36,776.25L266.29,783.00A23.645999999999997,23.645999999999997 0 0,1 255.04,812.77Z" fill="#ebbdff"/>
<path d="M283.36,776.25A42,42 0 0,0 278.63,767.50L263.63,778.07A23.645999999999997,23.645999999999997 0 0,1 266.29,783.00Z" fill="#00f0f0"/>
<path d="M278.63,767.50A42,42 0 0,0 274.21,762.21L261.14,775.10A23.645999999999997,23.645999999999997 0 0,1 263.63,778.07Z" fill="#a8a8a8"/>
<path d="M274.21,762.21A42,42 0 0,0 272.40,760.49L260.12,774.13A23.645999999999997,23.645999999999997 0 0,1 261.14,775.10Z" fill="#9900b8"/>
<path d="M272.40,760.49A42,42 0 0,0 271.58,759.76L259.66,773.72A23.645999999999997,23.645999999999997 0 0,1 260.12,774.13Z" fill="#ff00e8"/>
<text x="244.3" y="795.3" font-size="10.6" font-weight="bold" text-anchor="middle" fill="#4a90e2" word-spacing="1">Domain 1</text>
<rect x="227.7" y="797.0" width="31.6" height="4.6" fill="#4a90e2"/>
<text x="239.9" y="842.0" font-size="10.7" text-anchor="middle" fill="#4a90e2">Endo. &amp; mesenchyme</text>
<text x="239.9" y="852.7" font-size="10.7" text-anchor="middle" fill="#4a90e2">rich</text>
<path d="M395.28,759.76A42,42 0 0,0 326.00,791.51L344.35,791.59A23.645999999999997,23.645999999999997 0 0,1 383.36,773.72Z" fill="#9900b8"/>
<path d="M326.00,791.51A42,42 0 0,0 374.54,833.19L371.68,815.06A23.645999999999997,23.645999999999997 0 0,1 344.35,791.59Z" fill="#ff7800"/>
<path d="M374.54,833.19A42,42 0 0,0 409.55,785.57L391.39,788.25A23.645999999999997,23.645999999999997 0 0,1 371.68,815.06Z" fill="#ebbdff"/>
<path d="M409.55,785.57A42,42 0 0,0 403.58,769.38L388.03,779.14A23.645999999999997,23.645999999999997 0 0,1 391.39,788.25Z" fill="#ff00e8"/>
<path d="M403.58,769.38A42,42 0 0,0 398.82,763.16L385.35,775.63A23.645999999999997,23.645999999999997 0 0,1 388.03,779.14Z" fill="#00f0f0"/>
<path d="M398.82,763.16A42,42 0 0,0 396.91,761.23L384.28,774.55A23.645999999999997,23.645999999999997 0 0,1 385.35,775.63Z" fill="#fb0045"/>
<path d="M396.91,761.23A42,42 0 0,0 395.83,760.24L383.67,773.99A23.645999999999997,23.645999999999997 0 0,1 384.28,774.55Z" fill="#007a78"/>
<path d="M395.83,760.24A42,42 0 0,0 395.28,759.76L383.36,773.72A23.645999999999997,23.645999999999997 0 0,1 383.67,773.99Z" fill="#a8a8a8"/>
<text x="368.0" y="795.3" font-size="10.6" font-weight="bold" text-anchor="middle" fill="#4a000e" word-spacing="1">Domain 3</text>
<rect x="351.4" y="797.0" width="31.6" height="4.6" fill="#4a000e"/>
<text x="369.0" y="842.0" font-size="10.7" text-anchor="middle" fill="#4a000e">Mesenchyme &amp; immune</text>
<text x="369.0" y="852.7" font-size="10.7" text-anchor="middle" fill="#4a000e">rich</text>
<path d="M511.38,759.76A42,42 0 1,0 478.80,833.36L481.12,815.16A23.645999999999997,23.645999999999997 0 1,1 499.46,773.72Z" fill="#007a78"/>
<path d="M478.80,833.36A42,42 0 0,0 526.07,793.16L507.73,792.52A23.645999999999997,23.645999999999997 0 0,1 481.12,815.16Z" fill="#ebbdff"/>
<path d="M526.07,793.16A42,42 0 0,0 520.59,770.91L504.65,780.00A23.645999999999997,23.645999999999997 0 0,1 507.73,792.52Z" fill="#ffb7b7"/>
<path d="M520.59,770.91A42,42 0 0,0 516.23,764.66L502.19,776.47A23.645999999999997,23.645999999999997 0 0,1 504.65,780.00Z" fill="#ff7800"/>
<path d="M516.23,764.66A42,42 0 0,0 513.01,761.24L500.38,774.55A23.645999999999997,23.645999999999997 0 0,1 502.19,776.47Z" fill="#00f0f0"/>
<path d="M513.01,761.24A42,42 0 0,0 512.20,760.49L499.92,774.13A23.645999999999997,23.645999999999997 0 0,1 500.38,774.55Z" fill="#9900b8"/>
<path d="M512.20,760.49A42,42 0 0,0 511.38,759.76L499.46,773.72A23.645999999999997,23.645999999999997 0 0,1 499.92,774.13Z" fill="#ff00e8"/>
<text x="484.1" y="795.3" font-size="10.6" font-weight="bold" text-anchor="middle" fill="#5c6a00" word-spacing="1">Domain 5</text>
<rect x="467.5" y="797.0" width="31.6" height="4.6" fill="#5c6a00"/>
<text x="491.1" y="842.0" font-size="10.7" text-anchor="middle" fill="#5c6a00">SOX9<tspan font-size="6.3" dy="-3.0">high</tspan><tspan dy="3.0" font-size="7.5"> </tspan>epithelium</text>
<text x="491.1" y="852.7" font-size="10.7" text-anchor="middle" fill="#5c6a00">rich</text>
<path d="M271.58,867.76A42,42 0 1,0 273.75,929.65L260.88,916.56A23.645999999999997,23.645999999999997 0 1,1 259.66,881.72Z" fill="#ebbdff"/>
<path d="M273.75,929.65A42,42 0 0,0 286.12,895.85L267.85,897.53A23.645999999999997,23.645999999999997 0 0,1 260.88,916.56Z" fill="#00f0f0"/>
<path d="M286.12,895.85A42,42 0 0,0 275.07,871.11L261.62,883.61A23.645999999999997,23.645999999999997 0 0,1 267.85,897.53Z" fill="#ff7800"/>
<path d="M275.07,871.11A42,42 0 0,0 273.21,869.24L260.58,882.55A23.645999999999997,23.645999999999997 0 0,1 261.62,883.61Z" fill="#9900b8"/>
<path d="M273.21,869.24A42,42 0 0,0 271.58,867.76L259.66,881.72A23.645999999999997,23.645999999999997 0 0,1 260.58,882.55Z" fill="#ff00e8"/>
<text x="244.3" y="903.3" font-size="10.6" font-weight="bold" text-anchor="middle" fill="#ffab78" word-spacing="1">Domain 2</text>
<rect x="227.7" y="905.0" width="31.6" height="4.6" fill="#ffab78"/>
<text x="243.9" y="951.3" font-size="10.7" text-anchor="middle" fill="#ffab78">Mesenchyme</text>
<text x="243.9" y="962.0" font-size="10.7" text-anchor="middle" fill="#ffab78">rich</text>
<path d="M395.58,866.56A42,42 0 0,0 329.33,914.17L346.36,907.32A23.645999999999997,23.645999999999997 0 0,1 383.66,880.52Z" fill="#ffb7b7"/>
<path d="M329.33,914.17A42,42 0 0,0 384.44,937.27L377.39,920.33A23.645999999999997,23.645999999999997 0 0,1 346.36,907.32Z" fill="#fb0045"/>
<path d="M384.44,937.27A42,42 0 0,0 409.71,891.50L391.61,894.56A23.645999999999997,23.645999999999997 0 0,1 377.39,920.33Z" fill="#ebbdff"/>
<path d="M409.71,891.50A42,42 0 0,0 404.82,877.75L388.86,886.82A23.645999999999997,23.645999999999997 0 0,1 391.61,894.56Z" fill="#ff7800"/>
<path d="M404.82,877.75A42,42 0 0,0 400.38,871.39L386.36,883.24A23.645999999999997,23.645999999999997 0 0,1 388.86,886.82Z" fill="#007a78"/>
<path d="M400.38,871.39A42,42 0 0,0 398.15,868.96L385.11,881.87A23.645999999999997,23.645999999999997 0 0,1 386.36,883.24Z" fill="#aaf000"/>
<path d="M398.15,868.96A42,42 0 0,0 396.84,867.68L384.37,881.15A23.645999999999997,23.645999999999997 0 0,1 385.11,881.87Z" fill="#9900b8"/>
<path d="M396.84,867.68A42,42 0 0,0 395.58,866.56L383.66,880.52A23.645999999999997,23.645999999999997 0 0,1 384.37,881.15Z" fill="#4169e1"/>
<text x="368.3" y="902.1" font-size="10.6" font-weight="bold" text-anchor="middle" fill="#0000f5" word-spacing="1">Domain 4</text>
<rect x="351.7" y="903.8" width="31.6" height="4.6" fill="#0000f5"/>
<text x="365.0" y="951.3" font-size="10.7" text-anchor="middle" fill="#0000f5">SOX2<tspan font-size="6.3" dy="-3.0">high</tspan><tspan dy="3.0" font-size="7.5"> </tspan>epithelium &amp; ASM</text>
<text x="365.0" y="962.0" font-size="10.7" text-anchor="middle" fill="#0000f5">rich</text>
<path d="M271.28,1002.46A42,42 0 1,0 221.26,1069.71L231.20,1054.28A23.645999999999997,23.645999999999997 0 1,1 259.36,1016.42Z" fill="#ebbdff"/>
<path d="M221.26,1069.71A42,42 0 0,0 280.17,1013.05L264.36,1022.38A23.645999999999997,23.645999999999997 0 0,1 231.20,1054.28Z" fill="#ff7800"/>
<path d="M280.17,1013.05A42,42 0 0,0 274.97,1006.03L261.44,1018.43A23.645999999999997,23.645999999999997 0 0,1 264.36,1022.38Z" fill="#00f0f0"/>
<path d="M274.97,1006.03A42,42 0 0,0 273.70,1004.71L260.72,1017.68A23.645999999999997,23.645999999999997 0 0,1 261.44,1018.43Z" fill="#ffd97a"/>
<path d="M273.70,1004.71A42,42 0 0,0 272.38,1003.44L259.98,1016.97A23.645999999999997,23.645999999999997 0 0,1 260.72,1017.68Z" fill="#ff00e8"/>
<path d="M272.38,1003.44A42,42 0 0,0 271.28,1002.46L259.36,1016.42A23.645999999999997,23.645999999999997 0 0,1 259.98,1016.97Z" fill="#a8a8a8"/>
<text x="244.0" y="1038.0" font-size="10.6" font-weight="bold" text-anchor="middle" fill="#4a90e2" word-spacing="1">Domain 1</text>
<rect x="227.4" y="1039.7" width="31.6" height="4.6" fill="#4a90e2"/>
<text x="245.8" y="1084.7" font-size="10.7" text-anchor="middle" fill="#4a90e2">Endo. &amp; mesenchyme</text>
<text x="245.8" y="1095.4" font-size="10.7" text-anchor="middle" fill="#4a90e2">rich</text>
<path d="M393.18,1001.26A42,42 0 1,0 377.62,1073.53L372.50,1055.91A23.645999999999997,23.645999999999997 0 1,1 381.26,1015.22Z" fill="#fb0045"/>
<path d="M377.62,1073.53A42,42 0 0,0 407.89,1034.08L389.54,1033.70A23.645999999999997,23.645999999999997 0 0,1 372.50,1055.91Z" fill="#ebbdff"/>
<path d="M407.89,1034.08A42,42 0 0,0 404.92,1017.67L387.87,1024.46A23.645999999999997,23.645999999999997 0 0,1 389.54,1033.70Z" fill="#ff7800"/>
<path d="M404.92,1017.67A42,42 0 0,0 401.86,1011.51L386.15,1020.99A23.645999999999997,23.645999999999997 0 0,1 387.87,1024.46Z" fill="#ffb7b7"/>
<path d="M401.86,1011.51A42,42 0 0,0 397.88,1005.98L383.91,1017.87A23.645999999999997,23.645999999999997 0 0,1 386.15,1020.99Z" fill="#007a78"/>
<path d="M397.88,1005.98A42,42 0 0,0 396.11,1004.02L382.91,1016.77A23.645999999999997,23.645999999999997 0 0,1 383.91,1017.87Z" fill="#aaf000"/>
<path d="M396.11,1004.02A42,42 0 0,0 394.81,1002.73L382.18,1016.05A23.645999999999997,23.645999999999997 0 0,1 382.91,1016.77Z" fill="#00f0f0"/>
<path d="M394.81,1002.73A42,42 0 0,0 394.00,1001.99L381.72,1015.63A23.645999999999997,23.645999999999997 0 0,1 382.18,1016.05Z" fill="#9900b8"/>
<path d="M394.00,1001.99A42,42 0 0,0 393.18,1001.26L381.26,1015.22A23.645999999999997,23.645999999999997 0 0,1 381.72,1015.63Z" fill="#4169e1"/>
<text x="365.9" y="1036.8" font-size="10.6" font-weight="bold" text-anchor="middle" fill="#00e640" word-spacing="1">Domain 3</text>
<rect x="349.3" y="1038.5" width="31.6" height="4.6" fill="#00e640"/>
<text x="369.9" y="1084.7" font-size="10.7" text-anchor="middle" fill="#00e640">Airway smooth muscle</text>
<text x="369.9" y="1095.4" font-size="10.7" text-anchor="middle" fill="#00e640">rich</text>
<path d="M508.28,1001.26A42,42 0 1,0 522.98,1034.50L504.63,1033.93A23.645999999999997,23.645999999999997 0 1,1 496.36,1015.22Z" fill="#007a78"/>
<path d="M522.98,1034.50A42,42 0 0,0 514.86,1008.35L500.06,1019.21A23.645999999999997,23.645999999999997 0 0,1 504.63,1033.93Z" fill="#ffb7b7"/>
<path d="M514.86,1008.35A42,42 0 0,0 508.28,1001.26L496.36,1015.22A23.645999999999997,23.645999999999997 0 0,1 500.06,1019.21Z" fill="#ebbdff"/>
<text x="481.0" y="1036.8" font-size="10.6" font-weight="bold" text-anchor="middle" fill="#5c6a00" word-spacing="1">Domain 5</text>
<rect x="464.4" y="1038.5" width="31.6" height="4.6" fill="#5c6a00"/>
<text x="478.0" y="1084.7" font-size="10.7" text-anchor="middle" fill="#5c6a00">SOX9<tspan font-size="6.3" dy="-3.0">high</tspan><tspan dy="3.0" font-size="7.5"> </tspan>epithelium</text>
<text x="478.0" y="1095.4" font-size="10.7" text-anchor="middle" fill="#5c6a00">rich</text>
<path d="M271.28,1110.66A42,42 0 1,0 235.78,1183.79L239.37,1165.79A23.645999999999997,23.645999999999997 0 1,1 259.36,1124.62Z" fill="#ebbdff"/>
<path d="M235.78,1183.79A42,42 0 0,0 278.05,1167.19L263.17,1156.44A23.645999999999997,23.645999999999997 0 0,1 239.37,1165.79Z" fill="#ff7800"/>
<path d="M278.05,1167.19A42,42 0 0,0 285.95,1144.65L267.62,1143.76A23.645999999999997,23.645999999999997 0 0,1 263.17,1156.44Z" fill="#9900b8"/>
<path d="M285.95,1144.65A42,42 0 0,0 282.89,1126.73L265.89,1133.67A23.645999999999997,23.645999999999997 0 0,1 267.62,1143.76Z" fill="#00f0f0"/>
<path d="M282.89,1126.73A42,42 0 0,0 280.94,1122.61L264.80,1131.35A23.645999999999997,23.645999999999997 0 0,1 265.89,1133.67Z" fill="#ff00e8"/>
<path d="M280.94,1122.61A42,42 0 0,0 278.43,1118.54L263.38,1129.06A23.645999999999997,23.645999999999997 0 0,1 264.80,1131.35Z" fill="#ffd97a"/>
<path d="M278.43,1118.54A42,42 0 0,0 276.43,1115.91L262.26,1127.57A23.645999999999997,23.645999999999997 0 0,1 263.38,1129.06Z" fill="#fb0045"/>
<path d="M276.43,1115.91A42,42 0 0,0 273.45,1112.65L260.58,1125.74A23.645999999999997,23.645999999999997 0 0,1 262.26,1127.57Z" fill="#007a78"/>
<path d="M273.45,1112.65A42,42 0 0,0 271.28,1110.66L259.36,1124.62A23.645999999999997,23.645999999999997 0 0,1 260.58,1125.74Z" fill="#a8a8a8"/>
<text x="244.0" y="1146.2" font-size="9.4" font-weight="bold" text-anchor="middle" fill="#ffab78" word-spacing="1">Domain 2</text>
<rect x="227.4" y="1147.9" width="31.6" height="4.6" fill="#ffab78"/>
<text x="244.0" y="1195.6" font-size="10.7" text-anchor="middle" fill="#ffab78">Mesenchyme</text>
<text x="244.0" y="1206.3" font-size="10.7" text-anchor="middle" fill="#ffab78">rich</text>
<path d="M393.28,1110.56A42,42 0 1,0 407.56,1136.41L389.40,1139.07A23.645999999999997,23.645999999999997 0 1,1 381.36,1124.52Z" fill="#ffb7b7"/>
<path d="M407.56,1136.41A42,42 0 0,0 396.72,1113.86L383.30,1126.38A23.645999999999997,23.645999999999997 0 0,1 389.40,1139.07Z" fill="#007a78"/>
<path d="M396.72,1113.86A42,42 0 0,0 394.91,1112.04L382.28,1125.35A23.645999999999997,23.645999999999997 0 0,1 383.30,1126.38Z" fill="#ebbdff"/>
<path d="M394.91,1112.04A42,42 0 0,0 393.28,1110.56L381.36,1124.52A23.645999999999997,23.645999999999997 0 0,1 382.28,1125.35Z" fill="#fb0045"/>
<text x="366.0" y="1146.1" font-size="10.6" font-weight="bold" text-anchor="middle" fill="#0000f5" word-spacing="1">Domain 4</text>
<rect x="349.4" y="1147.8" width="31.6" height="4.6" fill="#0000f5"/>
<text x="362.8" y="1195.6" font-size="10.7" text-anchor="middle" fill="#0000f5">SOX2<tspan font-size="6.3" dy="-3.0">high</tspan><tspan dy="3.0" font-size="7.5"> </tspan>epithelium</text>
<text x="362.8" y="1206.3" font-size="10.7" text-anchor="middle" fill="#0000f5">rich</text>
<path d="M510.28,1109.96A42,42 0 1,0 522.88,1155.09L505.45,1149.32A23.645999999999997,23.645999999999997 0 1,1 498.36,1123.92Z" fill="#4169e1"/>
<path d="M522.88,1155.09A42,42 0 0,0 511.86,1111.38L499.25,1124.72A23.645999999999997,23.645999999999997 0 0,1 505.45,1149.32Z" fill="#fb0045"/>
<path d="M511.86,1111.38A42,42 0 0,0 511.05,1110.64L498.79,1124.30A23.645999999999997,23.645999999999997 0 0,1 499.25,1124.72Z" fill="#1db33d"/>
<path d="M511.05,1110.64A42,42 0 0,0 510.28,1109.96L498.36,1123.92A23.645999999999997,23.645999999999997 0 0,1 498.79,1124.30Z" fill="#aaf000"/>
<text x="483.0" y="1145.5" font-size="10.6" font-weight="bold" text-anchor="middle" fill="#d078a8" word-spacing="1">Domain 6</text>
<rect x="466.4" y="1147.2" width="31.6" height="4.6" fill="#d078a8"/>
<text x="479.4" y="1195.6" font-size="10.7" text-anchor="middle" fill="#d078a8">Chondroblast</text>
<text x="479.4" y="1206.3" font-size="10.7" text-anchor="middle" fill="#d078a8">rich</text>
<circle cx="194.3" cy="1237.8" r="7.1" fill="#007a78"/>
<text x="204" y="1242.1" font-size="14.3" fill="#111">SOX9<tspan font-size="8.2" dy="-4.2">high</tspan><tspan dy="4.2" font-size="11"> </tspan> epithelial</text>
<circle cx="194.3" cy="1255.1" r="7.1" fill="#ffb7b7"/>
<text x="204" y="1259.4" font-size="14.3" fill="#111">SOX2<tspan font-size="8.2" dy="-4.2">high</tspan><tspan dy="4.2" font-size="11"> </tspan> epithelial</text>
<circle cx="194.3" cy="1272.3999999999999" r="7.1" fill="#ebbdff"/>
<text x="204" y="1276.7" font-size="14.3" fill="#111">Vim+ mesenchymal</text>
<circle cx="194.3" cy="1289.7" r="7.1" fill="#fb0045"/>
<text x="204" y="1294.0" font-size="14.3" fill="#111">Airway smooth muscle</text>
<circle cx="194.3" cy="1307.0" r="7.1" fill="#ff7800"/>
<text x="204" y="1311.3" font-size="14.3" fill="#111">Endothelial</text>
<circle cx="360.3" cy="1237.8" r="7.1" fill="#00f0f0"/>
<text x="370" y="1242.1" font-size="14.3" fill="#111">Ki67+ mesenchymal</text>
<circle cx="360.3" cy="1255.1" r="7.1" fill="#9900b8"/>
<text x="370" y="1259.4" font-size="14.3" fill="#111">Immune</text>
<circle cx="360.3" cy="1272.3999999999999" r="7.1" fill="#ff00e8"/>
<text x="370" y="1276.7" font-size="14.3" fill="#111">Lymphatic endothelial</text>
<circle cx="360.3" cy="1289.7" r="7.1" fill="#4169e1"/>
<text x="370" y="1294.0" font-size="14.3" fill="#111">Chondroblast</text>
<circle cx="360.3" cy="1307.0" r="7.1" fill="#ffd97a"/>
<text x="370" y="1311.3" font-size="14.3" fill="#111">Pericyte</text>
<circle cx="521.0" cy="1238.8" r="7.1" fill="#aaf000"/>
<text x="530.7" y="1243.1" font-size="14.3" fill="#111">Neuronal</text>
<circle cx="521.0" cy="1255.3" r="7.1" fill="#a8a8a8"/>
<text x="530.7" y="1259.6" font-size="14.3" fill="#111">Vascular smooth muscle</text>
<circle cx="521.0" cy="1271.8" r="7.1" fill="#a65a0a"/>
<text x="530.7" y="1276.1" font-size="14.3" fill="#111">Airway fibroblast</text>
<circle cx="521.0" cy="1288.3" r="7.1" fill="#1db33d"/>
<text x="530.7" y="1292.6" font-size="14.3" fill="#111">Adventitial fibroblast</text>
<circle cx="521.0" cy="1306.8" r="7.1" fill="#00004a"/>
<text x="530.7" y="1311.1" font-size="14.3" fill="#111">Mesothelial</text>
<defs><filter id="tf1" filterUnits="userSpaceOnUse" x="84" y="60" width="95" height="184" color-interpolation-filters="sRGB"><feTurbulence type="fractalNoise" baseFrequency="0.13" numOctaves="3" seed="5"/><feColorMatrix type="matrix" values="1 0 0 0 0 1 0 0 0 0 1 0 0 0 0 0 0 0 0 1"/><feComponentTransfer><feFuncR type="discrete" tableValues="0.357 0.357 0.357 0.357 0.357 0.357 0.357 0.357 0.357 0.357 0.357 0.357 0.357 0.357 0.357 0.357 0.357 0.357 0.357 0.357 0.357 1 1 1 1 1 1 1 1 1 1 1 1 1 1 1 1 1 1 1 1 1 1 1 1 1 1 1"/><feFuncG type="discrete" tableValues="0.604 0.604 0.604 0.604 0.604 0.604 0.604 0.604 0.604 0.604 0.604 0.604 0.604 0.604 0.604 0.604 0.604 0.604 0.604 0.604 0.604 0.725 0.725 0.725 0.725 0.725 0.725 0.725 0.725 1 1 1 1 1 1 1 1 1 1 1 1 1 1 1 1 1 1 1"/><feFuncB type="discrete" tableValues="0.878 0.878 0.878 0.878 0.878 0.878 0.878 0.878 0.878 0.878 0.878 0.878 0.878 0.878 0.878 0.878 0.878 0.878 0.878 0.878 0.878 0.541 0.541 0.541 0.541 0.541 0.541 0.541 0.541 1 1 1 1 1 1 1 1 1 1 1 1 1 1 1 1 1 1 1"/></feComponentTransfer></filter><clipPath id="tc1"><path d="M86.4,122.3L89.6,111.0L96.1,101.4L102.5,96.6L104.1,86.9L102.5,80.5L107.3,72.5L116.9,67.7L126.6,64.5L134.6,62.0L142.6,64.5L149.1,70.9L150.7,78.9L149.1,86.9L155.5,90.1L163.5,96.6L165.1,104.6L163.5,114.2L157.1,119.1L147.4,122.3L133.0,123.9L120.1,125.5L108.9,128.7L97.7,131.9L89.6,130.3L86.4,127.1ZM110.5,152.8L120.1,146.4L133.0,141.5L147.4,137.5L160.3,135.1L167.5,137.5L172.3,146.4L175.6,159.2L176.4,172.0L174.7,181.7L169.9,189.7L167.5,194.5L169.1,204.2L166.7,210.6L161.9,217.0L161.9,226.7L158.7,234.7L150.7,240.3L139.4,241.1L128.2,238.7L121.0,231.5L118.5,220.2L116.9,212.2L108.9,209.0L102.5,204.2L99.3,194.5L102.5,184.9L107.3,178.5L108.1,168.8L108.9,160.8Z"/></clipPath><filter id="tf2" filterUnits="userSpaceOnUse" x="84" y="60" width="95" height="184" color-interpolation-filters="sRGB"><feTurbulence type="fractalNoise" baseFrequency="0.7" numOctaves="2" seed="9"/><feColorMatrix type="matrix" values="1 0 0 0 0 1 0 0 0 0 1 0 0 0 0 1 0 0 0 0"/><feComponentTransfer><feFuncR type="discrete" tableValues="1 1 1 1 1 1 1 1 1 1 1 1 1 1 1 1 1 1 0 0 0 0 0 0 0 0 0 0 0 0 0 0.357 0.357 0.357 0.357 0.357 0.357 0.357 0.357 0.357 0.357 0.357 0.357 0.357 0.357 0.357 0.357 0.357"/><feFuncG type="discrete" tableValues="0.725 0.725 0.725 0.725 0.725 0.725 0.725 0.725 0.725 0.725 0.725 0.725 0.725 0.725 0.725 0.725 1 1 0 0 0 0 0 0 0 0 0 0 0 0 0 0.604 0.604 0.604 0.604 0.604 0.604 0.604 0.604 0.604 0.604 0.604 0.604 0.604 0.604 0.604 0.604 0.604"/><feFuncB type="discrete" tableValues="0.541 0.541 0.541 0.541 0.541 0.541 0.541 0.541 0.541 0.541 0.541 0.541 0.541 0.541 0.541 0.541 1 1 0 0 0 0 0 0 0 0 0 0 0 0 0 0.878 0.878 0.878 0.878 0.878 0.878 0.878 0.878 0.878 0.878 0.878 0.878 0.878 0.878 0.878 0.878 0.878"/><feFuncA type="discrete" tableValues="1 1 1 1 1 1 1 1 1 1 1 1 1 1 1 1 1 1 0 0 0 0 0 0 0 0 0 0 0 0 0 1 1 1 1 1 1 1 1 1 1 1 1 1 1 1 1 1"/></feComponentTransfer></filter><clipPath id="tc2"><path d="M86.4,122.3L89.6,111.0L96.1,101.4L102.5,96.6L104.1,86.9L102.5,80.5L107.3,72.5L116.9,67.7L126.6,64.5L134.6,62.0L142.6,64.5L149.1,70.9L150.7,78.9L149.1,86.9L155.5,90.1L163.5,96.6L165.1,104.6L163.5,114.2L157.1,119.1L147.4,122.3L133.0,123.9L120.1,125.5L108.9,128.7L97.7,131.9L89.6,130.3L86.4,127.1ZM110.5,152.8L120.1,146.4L133.0,141.5L147.4,137.5L160.3,135.1L167.5,137.5L172.3,146.4L175.6,159.2L176.4,172.0L174.7,181.7L169.9,189.7L167.5,194.5L169.1,204.2L166.7,210.6L161.9,217.0L161.9,226.7L158.7,234.7L150.7,240.3L139.4,241.1L128.2,238.7L121.0,231.5L118.5,220.2L116.9,212.2L108.9,209.0L102.5,204.2L99.3,194.5L102.5,184.9L107.3,178.5L108.1,168.8L108.9,160.8Z"/></clipPath><filter id="tf3" filterUnits="userSpaceOnUse" x="84" y="60" width="95" height="184" color-interpolation-filters="sRGB"><feTurbulence type="fractalNoise" baseFrequency="0.2" numOctaves="3" seed="19"/><feColorMatrix type="matrix" values="1 0 0 0 0 1 0 0 0 0 1 0 0 0 0 1 0 0 0 0"/><feComponentTransfer><feFuncR type="discrete" tableValues="0 0 0 0 0 0 0 0 0 0 0 0 0 0 0 0 0 0 0 0 0 0 0 0 0 0 0 0 0 0 0 0 0 0 0.29 0.29 0.29 0.29 0.29 0.29 0.29 0.29 0.29 0.29 0.29 0.29 0.29 0.29"/><feFuncG type="discrete" tableValues="0 0 0 0 0 0 0 0 0 0 0 0 0 0 0 0 0 0 0 0 0 0 0 0 0 0 0 0 0 0 0 0 0 0 0.039 0.039 0.039 0.039 0.039 0.039 0.039 0.039 0.039 0.039 0.039 0.039 0.039 0.039"/><feFuncB type="discrete" tableValues="0 0 0 0 0 0 0 0 0 0 0 0 0 0 0 0 0 0 0 0 0 0 0 0 0 0 0 0 0 0 0 0 0 0 0.078 0.078 0.078 0.078 0.078 0.078 0.078 0.078 0.078 0.078 0.078 0.078 0.078 0.078"/><feFuncA type="discrete" tableValues="0 0 0 0 0 0 0 0 0 0 0 0 0 0 0 0 0 0 0 0 0 0 0 0 0 0 0 0 0 0 0 0 0 0 1 1 1 1 1 1 1 1 1 1 1 1 1 1"/></feComponentTransfer></filter><clipPath id="tc3"><path d="M86.4,122.3L89.6,111.0L96.1,101.4L102.5,96.6L104.1,86.9L102.5,80.5L107.3,72.5L116.9,67.7L126.6,64.5L134.6,62.0L142.6,64.5L149.1,70.9L150.7,78.9L149.1,86.9L155.5,90.1L163.5,96.6L165.1,104.6L163.5,114.2L157.1,119.1L147.4,122.3L133.0,123.9L120.1,125.5L108.9,128.7L97.7,131.9L89.6,130.3L86.4,127.1ZM110.5,152.8L120.1,146.4L133.0,141.5L147.4,137.5L160.3,135.1L167.5,137.5L172.3,146.4L175.6,159.2L176.4,172.0L174.7,181.7L169.9,189.7L167.5,194.5L169.1,204.2L166.7,210.6L161.9,217.0L161.9,226.7L158.7,234.7L150.7,240.3L139.4,241.1L128.2,238.7L121.0,231.5L118.5,220.2L116.9,212.2L108.9,209.0L102.5,204.2L99.3,194.5L102.5,184.9L107.3,178.5L108.1,168.8L108.9,160.8Z"/></clipPath><filter id="tf4" filterUnits="userSpaceOnUse" x="147" y="187" width="24" height="26" color-interpolation-filters="sRGB"><feTurbulence type="fractalNoise" baseFrequency="0.6" numOctaves="2" seed="18"/><feColorMatrix type="matrix" values="1 0 0 0 0 1 0 0 0 0 1 0 0 0 0 0 0 0 0 1"/><feComponentTransfer><feFuncR type="discrete" tableValues="0.961 0.961 0.961 0.961 0.961 0.961 0.961 0.961 0.961 0.961 0.961 0.961 0.961 0.961 0.961 0.961 0.961 0.961 0.961 0.961 0.961 0.961 0.961 0.961 0.961 1 1 1 1 1 1 1 1 1 1 1 1 1 1 1 1 1 1 1 1 1 1 1"/><feFuncG type="discrete" tableValues="0 0 0 0 0 0 0 0 0 0 0 0 0 0 0 0 0 0 0 0 0 0 0 0 0 1 1 1 1 1 0.725 0.725 0.725 0.725 0.725 0.725 0.725 0.725 0.725 0.725 0.725 0.725 0.725 0.725 0.725 0.725 0.725 0.725"/><feFuncB type="discrete" tableValues="0.353 0.353 0.353 0.353 0.353 0.353 0.353 0.353 0.353 0.353 0.353 0.353 0.353 0.353 0.353 0.353 0.353 0.353 0.353 0.353 0.353 0.353 0.353 0.353 0.353 1 1 1 1 1 0.541 0.541 0.541 0.541 0.541 0.541 0.541 0.541 0.541 0.541 0.541 0.541 0.541 0.541 0.541 0.541 0.541 0.541"/></feComponentTransfer></filter><clipPath id="tc4"><path d="M149.1,192.9L160.3,189.7L168.3,194.5L168.6,207.4L163.5,210.6L155.5,208.2L149.1,201.0Z"/></clipPath><filter id="wob" x="80" y="50" width="110" height="200" filterUnits="userSpaceOnUse"><feTurbulence type="fractalNoise" baseFrequency="0.35" numOctaves="2" seed="4" result="n"/><feDisplacementMap in="SourceGraphic" in2="n" scale="3.2" xChannelSelector="R" yChannelSelector="G"/></filter><filter id="tf5" filterUnits="userSpaceOnUse" x="87" y="317" width="102" height="168" color-interpolation-filters="sRGB"><feTurbulence type="fractalNoise" baseFrequency="0.14" numOctaves="3" seed="11"/><feColorMatrix type="matrix" values="1 0 0 0 0 1 0 0 0 0 1 0 0 0 0 0 0 0 0 1"/><feComponentTransfer><feFuncR type="discrete" tableValues="0.357 0.357 0.357 0.357 0.357 0.357 0.357 0.357 0.357 0.357 0.357 0.357 0.357 0.357 0.357 0.357 0.357 0.357 0.357 0.357 0.357 1 1 1 1 1 1 1 1 1 1 1 1 1 1 1 1 1 1 1 1 1 1 1 1 1 1 1"/><feFuncG type="discrete" tableValues="0.604 0.604 0.604 0.604 0.604 0.604 0.604 0.604 0.604 0.604 0.604 0.604 0.604 0.604 0.604 0.604 0.604 0.604 0.604 0.604 0.604 1 1 1 1 1 1 1 0.725 0.725 0.725 0.725 0.725 0.725 0.725 0.725 0.725 0.725 0.725 0.725 0.725 0.725 0.725 0.725 0.725 0.725 0.725 0.725"/><feFuncB type="discrete" tableValues="0.878 0.878 0.878 0.878 0.878 0.878 0.878 0.878 0.878 0.878 0.878 0.878 0.878 0.878 0.878 0.878 0.878 0.878 0.878 0.878 0.878 1 1 1 1 1 1 1 0.541 0.541 0.541 0.541 0.541 0.541 0.541 0.541 0.541 0.541 0.541 0.541 0.541 0.541 0.541 0.541 0.541 0.541 0.541 0.541"/></feComponentTransfer></filter><clipPath id="tc5"><path d="M94.6,321.6L105.9,319.2L117.1,323.2L133.2,336.0L138.0,342.4L149.2,364.9L160.5,387.4L174.9,403.5L186.2,413.1L168.5,434.0L149.2,453.3L133.2,467.7L120.3,482.2L113.9,464.5L110.7,451.7L104.3,427.6L99.5,403.5L93.0,377.8L89.8,355.3L89.8,342.4L91.4,331.2Z"/></clipPath><filter id="tf6" filterUnits="userSpaceOnUse" x="87" y="317" width="102" height="168" color-interpolation-filters="sRGB"><feTurbulence type="fractalNoise" baseFrequency="0.75" numOctaves="2" seed="15"/><feColorMatrix type="matrix" values="1 0 0 0 0 1 0 0 0 0 1 0 0 0 0 1 0 0 0 0"/><feComponentTransfer><feFuncR type="discrete" tableValues="0.29 0.29 0.29 0.29 0.29 0.29 0.29 0.29 0.29 0.29 0.29 0.29 0.29 0.29 0.29 0 0 0 0 0 0 0 0 0 0 0 0 0 0 1 1 1 1 1 1 1 1 1 1 1 1 1 1 1 1 1 1 1"/><feFuncG type="discrete" tableValues="0.039 0.039 0.039 0.039 0.039 0.039 0.039 0.039 0.039 0.039 0.039 0.039 0.039 0.039 0.039 0 0 0 0 0 0 0 0 0 0 0 0 0 0 1 1 1 1 1 1 1 1 1 1 1 1 1 1 1 1 1 1 1"/><feFuncB type="discrete" tableValues="0.078 0.078 0.078 0.078 0.078 0.078 0.078 0.078 0.078 0.078 0.078 0.078 0.078 0.078 0.078 0 0 0 0 0 0 0 0 0 0 0 0 0 0 1 1 1 1 1 1 1 1 1 1 1 1 1 1 1 1 1 1 1"/><feFuncA type="discrete" tableValues="1 1 1 1 1 1 1 1 1 1 1 1 1 1 1 0 0 0 0 0 0 0 0 0 0 0 0 0 0 1 1 1 1 1 1 1 1 1 1 1 1 1 1 1 1 1 1 1"/></feComponentTransfer></filter><clipPath id="tc6"><path d="M94.6,321.6L105.9,319.2L117.1,323.2L133.2,336.0L138.0,342.4L149.2,364.9L160.5,387.4L174.9,403.5L186.2,413.1L168.5,434.0L149.2,453.3L133.2,467.7L120.3,482.2L113.9,464.5L110.7,451.7L104.3,427.6L99.5,403.5L93.0,377.8L89.8,355.3L89.8,342.4L91.4,331.2Z"/></clipPath><filter id="tf7" filterUnits="userSpaceOnUse" x="87" y="317" width="102" height="168" color-interpolation-filters="sRGB"><feTurbulence type="fractalNoise" baseFrequency="0.25" numOctaves="2" seed="16"/><feColorMatrix type="matrix" values="1 0 0 0 0 1 0 0 0 0 1 0 0 0 0 1 0 0 0 0"/><feComponentTransfer><feFuncR type="discrete" tableValues="0 0 0 0 0 0 0 0 0 0 0 0 0 0 0 0 0 0 0 0 0 0 0 0 0 0 0 0 0 0 0 0 0 0.29 0.29 0.29 0.29 0.29 0.29 0.29 0.29 0.29 0.29 0.29 0.29 0.29 0.29 0.29"/><feFuncG type="discrete" tableValues="0 0 0 0 0 0 0 0 0 0 0 0 0 0 0 0 0 0 0 0 0 0 0 0 0 0 0 0 0 0 0 0 0 0.039 0.039 0.039 0.039 0.039 0.039 0.039 0.039 0.039 0.039 0.039 0.039 0.039 0.039 0.039"/><feFuncB type="discrete" tableValues="0 0 0 0 0 0 0 0 0 0 0 0 0 0 0 0 0 0 0 0 0 0 0 0 0 0 0 0 0 0 0 0 0 0.078 0.078 0.078 0.078 0.078 0.078 0.078 0.078 0.078 0.078 0.078 0.078 0.078 0.078 0.078"/><feFuncA type="discrete" tableValues="0 0 0 0 0 0 0 0 0 0 0 0 0 0 0 0 0 0 0 0 0 0 0 0 0 0 0 0 0 0 0 0 0 1 1 1 1 1 1 1 1 1 1 1 1 1 1 1"/></feComponentTransfer></filter><clipPath id="tc7"><path d="M94.6,321.6L105.9,319.2L117.1,323.2L133.2,336.0L138.0,342.4L149.2,364.9L160.5,387.4L174.9,403.5L186.2,413.1L168.5,434.0L149.2,453.3L133.2,467.7L120.3,482.2L113.9,464.5L110.7,451.7L104.3,427.6L99.5,403.5L93.0,377.8L89.8,355.3L89.8,342.4L91.4,331.2Z"/></clipPath><filter id="tf8" filterUnits="userSpaceOnUse" x="130" y="292" width="26" height="49" color-interpolation-filters="sRGB"><feTurbulence type="fractalNoise" baseFrequency="0.5" numOctaves="2" seed="12"/><feColorMatrix type="matrix" values="1 0 0 0 0 1 0 0 0 0 1 0 0 0 0 0 0 0 0 1"/><feComponentTransfer><feFuncR type="discrete" tableValues="0.29 0.29 0.29 0.29 0.29 0.29 0.29 0.29 0.29 0.29 0.29 0.29 0.29 0.29 0 0 0 0 0 0 0 0 0 0 0 0 0 0 0 1 1 1 1 1 0.357 0.357 0.357 0.357 0.357 0.357 0.357 0.357 0.357 0.357 0.357 0.357 0.357 0.357"/><feFuncG type="discrete" tableValues="0.039 0.039 0.039 0.039 0.039 0.039 0.039 0.039 0.039 0.039 0.039 0.039 0.039 0.039 0.878 0.878 0.878 0.878 0.878 0.878 0.878 0.878 0.878 0.878 0.878 0.878 0.878 0.878 0.878 1 1 1 1 1 0.604 0.604 0.604 0.604 0.604 0.604 0.604 0.604 0.604 0.604 0.604 0.604 0.604 0.604"/><feFuncB type="discrete" tableValues="0.078 0.078 0.078 0.078 0.078 0.078 0.078 0.078 0.078 0.078 0.078 0.078 0.078 0.078 0.251 0.251 0.251 0.251 0.251 0.251 0.251 0.251 0.251 0.251 0.251 0.251 0.251 0.251 0.251 1 1 1 1 1 0.878 0.878 0.878 0.878 0.878 0.878 0.878 0.878 0.878 0.878 0.878 0.878 0.878 0.878"/></feComponentTransfer></filter><clipPath id="tc8"><path d="M132.9,300.4L136.4,296.0L142.5,294.3L146.9,297.8L146.0,303.9L151.3,310.0L153.9,315.3L153.9,324.0L151.3,331.9L147.8,336.3L140.8,338.0L134.6,338.0L132.9,331.9L132.0,323.2L132.0,311.8Z"/></clipPath><filter id="tf9" filterUnits="userSpaceOnUse" x="139" y="277" width="40" height="38" color-interpolation-filters="sRGB"><feTurbulence type="fractalNoise" baseFrequency="0.6" numOctaves="2" seed="13"/><feColorMatrix type="matrix" values="1 0 0 0 0 1 0 0 0 0 1 0 0 0 0 0 0 0 0 1"/><feComponentTransfer><feFuncR type="discrete" tableValues="0.831 0.831 0.831 0.831 0.831 0.831 0.831 0.831 0.831 0.831 0.831 0.831 0.831 0.831 0.831 0.831 0.831 0.831 0.831 0.831 0.831 0.831 0.831 1 1 1 1 1 1 1 1 1 1 1 1 1 1 1 1 1 1 1 1 1 1 1 1 1"/><feFuncG type="discrete" tableValues="0.525 0.525 0.525 0.525 0.525 0.525 0.525 0.525 0.525 0.525 0.525 0.525 0.525 0.525 0.525 0.525 0.525 0.525 0.525 0.525 0.525 0.525 0.525 1 1 1 1 1 1 1 1 1 1 1 1 1 1 1 1 1 1 1 1 1 1 1 1 1"/><feFuncB type="discrete" tableValues="0.69 0.69 0.69 0.69 0.69 0.69 0.69 0.69 0.69 0.69 0.69 0.69 0.69 0.69 0.69 0.69 0.69 0.69 0.69 0.69 0.69 0.69 0.69 1 1 1 1 1 1 1 1 1 1 1 1 1 1 1 1 1 1 1 1 1 1 1 1 1"/></feComponentTransfer></filter><clipPath id="tc9"><path d="M141.6,291.6L146.9,285.5L155.6,280.3L164.4,279.4L170.5,283.8L174.9,290.8L176.7,297.8L175.8,304.8L172.3,310.0L166.2,312.7L158.3,311.8L151.3,311.8L148.6,308.3L146.9,301.3L143.4,297.8Z"/></clipPath><filter id="tf10" filterUnits="userSpaceOnUse" x="135" y="336" width="27" height="62" color-interpolation-filters="sRGB"><feTurbulence type="fractalNoise" baseFrequency="0.6" numOctaves="2" seed="14"/><feColorMatrix type="matrix" values="1 0 0 0 0 1 0 0 0 0 1 0 0 0 0 0 0 0 0 1"/><feComponentTransfer><feFuncR type="discrete" tableValues="0.918 0.918 0.918 0.918 0.918 0.918 0.918 0.918 0.918 0.918 0.918 0.918 0.918 0.918 0.918 0.918 0.918 0.918 0.918 0.918 0.918 0.918 0.918 0.918 0.918 0.918 0.918 0.918 1 1 1 1 1 1 1 1 1 1 1 1 1 1 1 1 1 1 1 1"/><feFuncG type="discrete" tableValues="0.918 0.918 0.918 0.918 0.918 0.918 0.918 0.918 0.918 0.918 0.918 0.918 0.918 0.918 0.918 0.918 0.918 0.918 0.918 0.918 0.918 0.918 0.918 0.918 0.918 0.918 0.918 0.918 1 1 1 1 1 1 1 1 1 1 1 1 1 1 1 1 1 1 1 1"/><feFuncB type="discrete" tableValues="0 0 0 0 0 0 0 0 0 0 0 0 0 0 0 0 0 0 0 0 0 0 0 0 0 0 0 0 1 1 1 1 1 1 1 1 1 1 1 1 1 1 1 1 1 1 1 1"/></feComponentTransfer></filter><clipPath id="tc10"><path d="M137.2,338.4L143.6,339.2L150.8,350.5L157.3,364.9L159.2,379.4L156.5,393.8L153.3,395.1L153.7,379.4L152.1,364.9L147.6,352.1Z"/></clipPath><filter id="tf11" filterUnits="userSpaceOnUse" x="80" y="508" width="115" height="230" color-interpolation-filters="sRGB"><feTurbulence type="fractalNoise" baseFrequency="0.6" numOctaves="2" seed="21"/><feColorMatrix type="matrix" values="1 0 0 0 0 1 0 0 0 0 1 0 0 0 0 0 0 0 0 1"/><feComponentTransfer><feFuncR type="discrete" tableValues="0.518 0.518 0.518 0.518 0.518 0.518 0.518 0.518 0.518 0.518 0.518 0.518 0.518 0.518 0.518 0.518 0.518 0.616 0.616 0.616 0.616 0.616 0.616 0.616 0.953 0.953 0.937 0.937 0.937 0.937 0.784 0.784 0.541 0.541 0.541 0.541 0.541 0.541 0.541 0.541 0.541 0.541 0.541 0.541 0.541 0.541 0.541 0.541"/><feFuncG type="discrete" tableValues="0.314 0.314 0.314 0.314 0.314 0.314 0.314 0.314 0.314 0.314 0.314 0.314 0.314 0.314 0.314 0.314 0.314 0.737 0.737 0.737 0.737 0.737 0.737 0.737 0.933 0.933 0.784 0.784 0.784 0.784 0.627 0.627 0.541 0.541 0.541 0.541 0.541 0.541 0.541 0.541 0.541 0.541 0.541 0.541 0.541 0.541 0.541 0.541"/><feFuncB type="discrete" tableValues="0.353 0.353 0.353 0.353 0.353 0.353 0.353 0.353 0.353 0.353 0.353 0.353 0.353 0.353 0.353 0.353 0.353 0.878 0.878 0.878 0.878 0.878 0.878 0.878 0.918 0.918 0.69 0.69 0.69 0.69 0.722 0.722 0.333 0.333 0.333 0.333 0.333 0.333 0.333 0.333 0.333 0.333 0.333 0.333 0.333 0.333 0.333 0.333"/></feComponentTransfer></filter><clipPath id="tc11"><path d="M90.7,510.0L141.7,510.4L190.8,559.0L143.8,557.4L192.8,624.9L109.0,735.2L95.0,712.0L86.6,694.4L84.0,660.0L82.9,600.0L83.0,540.0Z"/></clipPath><filter id="tf12" filterUnits="userSpaceOnUse" x="80" y="508" width="115" height="230" color-interpolation-filters="sRGB"><feTurbulence type="fractalNoise" baseFrequency="0.3" numOctaves="3" seed="23"/><feColorMatrix type="matrix" values="1 0 0 0 0 1 0 0 0 0 1 0 0 0 0 1 0 0 0 0"/><feComponentTransfer><feFuncR type="discrete" tableValues="0 0 0 0 0 0 0 0 0 0 0 0 0 0 0 0 0 0 0 0 0 0 0 0 0 0 0 0 0 0.471 0.471 0.471 0.471 0.471 0.471 0.471 0.471 0.471 0.471 0.471 0.471 0.471 0.471 0.471 0.471 0.471 0.471 0.471"/><feFuncG type="discrete" tableValues="0 0 0 0 0 0 0 0 0 0 0 0 0 0 0 0 0 0 0 0 0 0 0 0 0 0 0 0 0 0.51 0.51 0.51 0.51 0.51 0.51 0.51 0.51 0.51 0.51 0.51 0.51 0.51 0.51 0.51 0.51 0.51 0.51 0.51"/><feFuncB type="discrete" tableValues="0 0 0 0 0 0 0 0 0 0 0 0 0 0 0 0 0 0 0 0 0 0 0 0 0 0 0 0 0 0.227 0.227 0.227 0.227 0.227 0.227 0.227 0.227 0.227 0.227 0.227 0.227 0.227 0.227 0.227 0.227 0.227 0.227 0.227"/><feFuncA type="discrete" tableValues="0 0 0 0 0 0 0 0 0 0 0 0 0 0 0 0 0 0 0 0 0 0 0 0 0 0 0 0 0 1 1 1 1 1 1 1 1 1 1 1 1 1 1 1 1 1 1 1"/></feComponentTransfer></filter><clipPath id="tc12"><path d="M90.7,510.0L141.7,510.4L190.8,559.0L143.8,557.4L192.8,624.9L109.0,735.2L95.0,712.0L86.6,694.4L84.0,660.0L82.9,600.0L83.0,540.0Z"/></clipPath><filter id="tf13" filterUnits="userSpaceOnUse" x="80" y="508" width="115" height="230" color-interpolation-filters="sRGB"><feTurbulence type="turbulence" baseFrequency="0.03" numOctaves="2" seed="24"/><feColorMatrix type="matrix" values="1 0 0 0 0 1 0 0 0 0 1 0 0 0 0 1 0 0 0 0"/><feComponentTransfer><feFuncR type="discrete" tableValues="1 1 1 0.984 0 0 0 0 0 0 0 0 0 0 0 0 0 0 0 0 0 0 0 0 0 0 0 0 0 0 0 0 0 0 0 0 0 0 0 0 0 0 0 0 0 0 0 0 0 0 0 0 0 0 0 0 0 0 0 0 0 0 0 0"/><feFuncG type="discrete" tableValues="1 1 1 0.902 0 0 0 0 0 0 0 0 0 0 0 0 0 0 0 0 0 0 0 0 0 0 0 0 0 0 0 0 0 0 0 0 0 0 0 0 0 0 0 0 0 0 0 0 0 0 0 0 0 0 0 0 0 0 0 0 0 0 0 0"/><feFuncB type="discrete" tableValues="1 1 1 0.863 0 0 0 0 0 0 0 0 0 0 0 0 0 0 0 0 0 0 0 0 0 0 0 0 0 0 0 0 0 0 0 0 0 0 0 0 0 0 0 0 0 0 0 0 0 0 0 0 0 0 0 0 0 0 0 0 0 0 0 0"/><feFuncA type="discrete" tableValues="1 1 1 1 0 0 0 0 0 0 0 0 0 0 0 0 0 0 0 0 0 0 0 0 0 0 0 0 0 0 0 0 0 0 0 0 0 0 0 0 0 0 0 0 0 0 0 0 0 0 0 0 0 0 0 0 0 0 0 0 0 0 0 0"/></feComponentTransfer></filter><clipPath id="tc13"><path d="M90.7,510.0L141.7,510.4L190.8,559.0L143.8,557.4L192.8,624.9L109.0,735.2L95.0,712.0L86.6,694.4L84.0,660.0L82.9,600.0L83.0,540.0Z"/></clipPath><filter id="tf14" filterUnits="userSpaceOnUse" x="81" y="543" width="99" height="181" color-interpolation-filters="sRGB"><feTurbulence type="fractalNoise" baseFrequency="0.6" numOctaves="2" seed="22"/><feColorMatrix type="matrix" values="1 0 0 0 0 1 0 0 0 0 1 0 0 0 0 0 0 0 0 1"/><feComponentTransfer><feFuncR type="discrete" tableValues="0.957 0.957 0.957 0.957 0.957 0.957 0.957 0.957 0.957 0.957 0.957 0.957 0.957 0.957 0.957 0.957 0.957 0.957 0.957 0.957 0.957 1 1 1 1 1 1 1 1 1 0.847 0.518 0.561 0.561 0.561 0.561 0.561 0.561 0.561 0.561 0.561 0.561 0.561 0.561 0.561 0.561 0.561 0.561"/><feFuncG type="discrete" tableValues="0.769 0.769 0.769 0.769 0.769 0.769 0.769 0.769 0.769 0.769 0.769 0.769 0.769 0.769 0.769 0.769 0.769 0.769 0.769 0.769 0.769 1 1 1 1 1 1 1 1 1 0.659 0.314 0.714 0.714 0.714 0.714 0.714 0.714 0.714 0.714 0.714 0.714 0.714 0.714 0.714 0.714 0.714 0.714"/><feFuncB type="discrete" tableValues="0.651 0.651 0.651 0.651 0.651 0.651 0.651 0.651 0.651 0.651 0.651 0.651 0.651 0.651 0.651 0.651 0.651 0.651 0.651 0.651 0.651 1 1 1 1 1 1 1 1 1 0.753 0.353 0.878 0.878 0.878 0.878 0.878 0.878 0.878 0.878 0.878 0.878 0.878 0.878 0.878 0.878 0.878 0.878"/></feComponentTransfer></filter><clipPath id="tc14"><path d="M83.0,545.0L95.0,551.0L115.0,559.0L130.0,571.0L145.0,589.0L165.0,611.0L178.0,626.0L168.0,630.0L152.0,621.0L140.0,614.0L136.0,640.0L129.0,670.0L122.0,700.0L116.0,722.0L110.0,700.0L107.0,660.0L103.0,620.0L99.0,595.0L95.0,575.0L83.0,558.0Z"/></clipPath><filter id="tf15" filterUnits="userSpaceOnUse" x="71" y="751" width="108" height="221" color-interpolation-filters="sRGB"><feTurbulence type="fractalNoise" baseFrequency="0.42" numOctaves="2" seed="31"/><feColorMatrix type="matrix" values="1 0 0 0 0 1 0 0 0 0 1 0 0 0 0 0 0 0 0 1"/><feComponentTransfer><feFuncR type="discrete" tableValues="0.478 0.478 0.478 0.478 0.478 0.478 0.478 0.478 0.478 0.478 0.478 0.478 0.478 0.478 0.478 0.478 0.478 0.478 0.478 0.525 0.525 0.525 0.525 0.525 0.525 0.933 0.933 0.933 0.933 0.933 0.933 0.933 0 0 0 0 0 0 0 0 0 0 0 0 0 0 0 0"/><feFuncG type="discrete" tableValues="0.227 0.227 0.227 0.227 0.227 0.227 0.227 0.227 0.227 0.227 0.227 0.227 0.227 0.227 0.227 0.227 0.227 0.227 0.227 0.706 0.706 0.706 0.706 0.706 0.706 0.941 0.941 0.941 0.769 0.769 0.769 0.769 0 0 0 0 0 0 0 0 0 0 0 0 0 0 0 0"/><feFuncB type="discrete" tableValues="0.282 0.282 0.282 0.282 0.282 0.282 0.282 0.282 0.282 0.282 0.282 0.282 0.282 0.282 0.282 0.282 0.282 0.282 0.282 0.91 0.91 0.91 0.91 0.91 0.91 0.965 0.965 0.965 0.667 0.667 0.667 0.667 0.941 0.941 0.941 0.941 0.941 0.941 0.941 0.941 0.941 0.941 0.941 0.941 0.941 0.941 0.941 0.941"/></feComponentTransfer></filter><clipPath id="tc15"><path d="M73.3,753.9L176.5,757.4L172.0,820.0L168.0,880.0L164.2,968.9L109.0,970.0L95.0,930.0L86.6,883.0L80.4,838.0L79.4,821.7L75.0,790.0Z"/></clipPath><pattern id="p12" patternUnits="userSpaceOnUse" width="36" height="36"><circle cx="3.3" cy="3.7" r="1.7" fill="#6a7a22"/><circle cx="3.8" cy="10.2" r="1.8" fill="#6a7a22"/><circle cx="3.7" cy="16.2" r="1.5" fill="#6a7a22"/><circle cx="1.7" cy="20.9" r="1.5" fill="#6a7a22"/><circle cx="4.2" cy="27.4" r="1.6" fill="#6a7a22"/><circle cx="4.1" cy="31.9" r="1.7" fill="#6a7a22"/><circle cx="8.9" cy="2.3" r="1.4" fill="#6a7a22"/><circle cx="9.1" cy="9.2" r="1.7" fill="#6a7a22"/><circle cx="7.6" cy="14.2" r="1.7" fill="#6a7a22"/><circle cx="8.4" cy="22.2" r="1.7" fill="#6a7a22"/><circle cx="9.7" cy="26.0" r="1.3" fill="#6a7a22"/><circle cx="9.8" cy="32.0" r="1.8" fill="#6a7a22"/><circle cx="15.3" cy="2.0" r="1.4" fill="#6a7a22"/><circle cx="13.6" cy="10.0" r="1.5" fill="#6a7a22"/><circle cx="14.2" cy="14.2" r="1.6" fill="#6a7a22"/><circle cx="16.4" cy="22.0" r="1.7" fill="#6a7a22"/><circle cx="14.4" cy="28.3" r="1.5" fill="#6a7a22"/><circle cx="15.1" cy="33.5" r="1.7" fill="#6a7a22"/><circle cx="20.2" cy="4.2" r="1.6" fill="#6a7a22"/><circle cx="21.5" cy="10.3" r="1.5" fill="#6a7a22"/><circle cx="22.1" cy="14.4" r="1.5" fill="#6a7a22"/><circle cx="20.6" cy="20.1" r="1.4" fill="#6a7a22"/><circle cx="20.0" cy="25.8" r="1.4" fill="#6a7a22"/><circle cx="20.4" cy="33.3" r="1.4" fill="#6a7a22"/><circle cx="25.6" cy="3.5" r="1.6" fill="#6a7a22"/><circle cx="26.5" cy="8.5" r="1.8" fill="#6a7a22"/><circle cx="27.9" cy="14.9" r="1.4" fill="#6a7a22"/><circle cx="26.5" cy="20.9" r="1.3" fill="#6a7a22"/><circle cx="27.6" cy="25.8" r="1.8" fill="#6a7a22"/><circle cx="28.3" cy="31.7" r="1.6" fill="#6a7a22"/><circle cx="33.7" cy="4.0" r="1.5" fill="#6a7a22"/><circle cx="31.7" cy="9.8" r="1.4" fill="#6a7a22"/><circle cx="32.6" cy="15.2" r="1.6" fill="#6a7a22"/><circle cx="31.6" cy="19.7" r="1.7" fill="#6a7a22"/><circle cx="32.1" cy="28.3" r="1.5" fill="#6a7a22"/><circle cx="32.2" cy="33.7" r="1.5" fill="#6a7a22"/><circle cx="3.3" cy="3.7" r="0.4" fill="#c9d29a"/><circle cx="3.8" cy="10.2" r="0.6" fill="#c9d29a"/><circle cx="3.7" cy="16.2" r="0.4" fill="#c9d29a"/><circle cx="1.7" cy="20.9" r="0.5" fill="#c9d29a"/><circle cx="4.2" cy="27.4" r="0.6" fill="#c9d29a"/><circle cx="4.1" cy="31.9" r="0.4" fill="#c9d29a"/><circle cx="8.9" cy="2.3" r="0.5" fill="#c9d29a"/><circle cx="9.1" cy="9.2" r="0.6" fill="#c9d29a"/><circle cx="7.6" cy="14.2" r="0.5" fill="#c9d29a"/><circle cx="8.4" cy="22.2" r="0.5" fill="#c9d29a"/><circle cx="9.7" cy="26.0" r="0.4" fill="#c9d29a"/><circle cx="9.8" cy="32.0" r="0.5" fill="#c9d29a"/><circle cx="15.3" cy="2.0" r="0.4" fill="#c9d29a"/><circle cx="13.6" cy="10.0" r="0.6" fill="#c9d29a"/><circle cx="14.2" cy="14.2" r="0.5" fill="#c9d29a"/><circle cx="16.4" cy="22.0" r="0.5" fill="#c9d29a"/><circle cx="14.4" cy="28.3" r="0.6" fill="#c9d29a"/><circle cx="15.1" cy="33.5" r="0.6" fill="#c9d29a"/><circle cx="20.2" cy="4.2" r="0.6" fill="#c9d29a"/><circle cx="21.5" cy="10.3" r="0.5" fill="#c9d29a"/><circle cx="22.1" cy="14.4" r="0.5" fill="#c9d29a"/><circle cx="20.6" cy="20.1" r="0.5" fill="#c9d29a"/><circle cx="20.0" cy="25.8" r="0.5" fill="#c9d29a"/><circle cx="20.4" cy="33.3" r="0.5" fill="#c9d29a"/><circle cx="25.6" cy="3.5" r="0.5" fill="#c9d29a"/><circle cx="26.5" cy="8.5" r="0.4" fill="#c9d29a"/><circle cx="27.9" cy="14.9" r="0.5" fill="#c9d29a"/><circle cx="26.5" cy="20.9" r="0.6" fill="#c9d29a"/><circle cx="27.6" cy="25.8" r="0.6" fill="#c9d29a"/><circle cx="28.3" cy="31.7" r="0.5" fill="#c9d29a"/><circle cx="33.7" cy="4.0" r="0.5" fill="#c9d29a"/><circle cx="31.7" cy="9.8" r="0.5" fill="#c9d29a"/><circle cx="32.6" cy="15.2" r="0.4" fill="#c9d29a"/><circle cx="31.6" cy="19.7" r="0.5" fill="#c9d29a"/><circle cx="32.1" cy="28.3" r="0.5" fill="#c9d29a"/><circle cx="32.2" cy="33.7" r="0.6" fill="#c9d29a"/></pattern><clipPath id="tc16"><path d="M73.3,753.9L176.5,757.4L172.0,820.0L168.0,880.0L164.2,968.9L109.0,970.0L95.0,930.0L86.6,883.0L80.4,838.0L79.4,821.7L75.0,790.0Z"/></clipPath><filter id="tf17" filterUnits="userSpaceOnUse" x="71" y="751" width="108" height="221" color-interpolation-filters="sRGB"><feTurbulence type="turbulence" baseFrequency="0.035" numOctaves="2" seed="34"/><feColorMatrix type="matrix" values="1 0 0 0 0 1 0 0 0 0 1 0 0 0 0 1 0 0 0 0"/><feComponentTransfer><feFuncR type="discrete" tableValues="1 1 0.957 0 0 0 0 0 0 0 0 0 0 0 0 0 0 0 0 0 0 0 0 0 0 0 0 0 0 0 0 0 0 0 0 0 0 0 0 0 0 0 0 0 0 0 0 0 0 0 0 0 0 0 0 0 0 0 0 0 0 0 0 0"/><feFuncG type="discrete" tableValues="1 1 0.957 0 0 0 0 0 0 0 0 0 0 0 0 0 0 0 0 0 0 0 0 0 0 0 0 0 0 0 0 0 0 0 0 0 0 0 0 0 0 0 0 0 0 0 0 0 0 0 0 0 0 0 0 0 0 0 0 0 0 0 0 0"/><feFuncB type="discrete" tableValues="1 1 0.984 0 0 0 0 0 0 0 0 0 0 0 0 0 0 0 0 0 0 0 0 0 0 0 0 0 0 0 0 0 0 0 0 0 0 0 0 0 0 0 0 0 0 0 0 0 0 0 0 0 0 0 0 0 0 0 0 0 0 0 0 0"/><feFuncA type="discrete" tableValues="1 1 1 0 0 0 0 0 0 0 0 0 0 0 0 0 0 0 0 0 0 0 0 0 0 0 0 0 0 0 0 0 0 0 0 0 0 0 0 0 0 0 0 0 0 0 0 0 0 0 0 0 0 0 0 0 0 0 0 0 0 0 0 0"/></feComponentTransfer></filter><clipPath id="tc17"><path d="M73.3,753.9L176.5,757.4L172.0,820.0L168.0,880.0L164.2,968.9L109.0,970.0L95.0,930.0L86.6,883.0L80.4,838.0L79.4,821.7L75.0,790.0Z"/></clipPath><filter id="tf18" filterUnits="userSpaceOnUse" x="21" y="1011" width="79" height="138" color-interpolation-filters="sRGB"><feTurbulence type="fractalNoise" baseFrequency="0.1" numOctaves="3" seed="41"/><feColorMatrix type="matrix" values="1 0 0 0 0 1 0 0 0 0 1 0 0 0 0 0 0 0 0 1"/><feComponentTransfer><feFuncR type="discrete" tableValues="1 1 1 1 1 1 1 1 1 1 1 1 1 1 1 1 1 1 1 1 1 1 1 1 1 1 1 1 1 1 0.643 0.643 0.643 0.643 0.643 0.643 0.643 0.643 0.643 0.643 0.643 0.643 0.643 0.643 0.643 0.643 0.643 0.643"/><feFuncG type="discrete" tableValues="1 1 1 1 1 1 1 1 1 1 1 1 1 1 1 0.725 0.725 0.725 0.725 0.725 0.725 0.725 0.725 0.725 0.725 0.725 0.725 0.725 0.725 0.725 0.706 0.706 0.706 0.706 0.706 0.706 0.706 0.706 0.706 0.706 0.706 0.706 0.706 0.706 0.706 0.706 0.706 0.706"/><feFuncB type="discrete" tableValues="1 1 1 1 1 1 1 1 1 1 1 1 1 1 1 0.541 0.541 0.541 0.541 0.541 0.541 0.541 0.541 0.541 0.541 0.541 0.541 0.541 0.541 0.541 0.847 0.847 0.847 0.847 0.847 0.847 0.847 0.847 0.847 0.847 0.847 0.847 0.847 0.847 0.847 0.847 0.847 0.847"/></feComponentTransfer></filter><clipPath id="tc18"><path d="M98.0,1013.7L23.4,1036.2L23.4,1106.8L98.0,1146.6Z"/></clipPath><filter id="tf19" filterUnits="userSpaceOnUse" x="95" y="987" width="89" height="206" color-interpolation-filters="sRGB"><feTurbulence type="fractalNoise" baseFrequency="0.1" numOctaves="3" seed="43"/><feColorMatrix type="matrix" values="1 0 0 0 0 1 0 0 0 0 1 0 0 0 0 0 0 0 0 1"/><feComponentTransfer><feFuncR type="discrete" tableValues="1 1 1 1 1 1 1 1 1 1 1 1 1 1 1 1 1 1 1 1 1 1 1 1 1 1 0.643 0.643 0.643 0.643 0.643 0.643 0.643 0.643 0.643 0.643 0.643 0.643 0.643 0.643 0.643 0.643 0.643 0.643 0.643 0.643 0.643 0.643"/><feFuncG type="discrete" tableValues="1 1 1 1 1 1 1 1 1 1 1 1 1 1 1 0.725 0.725 0.725 0.725 0.725 0.725 0.725 0.725 0.725 0.725 0.725 0.706 0.706 0.706 0.706 0.706 0.706 0.706 0.706 0.706 0.706 0.706 0.706 0.706 0.706 0.706 0.706 0.706 0.706 0.706 0.706 0.706 0.706"/><feFuncB type="discrete" tableValues="1 1 1 1 1 1 1 1 1 1 1 1 1 1 1 0.541 0.541 0.541 0.541 0.541 0.541 0.541 0.541 0.541 0.541 0.541 0.847 0.847 0.847 0.847 0.847 0.847 0.847 0.847 0.847 0.847 0.847 0.847 0.847 0.847 0.847 0.847 0.847 0.847 0.847 0.847 0.847 0.847"/></feComponentTransfer></filter><clipPath id="tc19"><path d="M178.7,989.5L97.5,1013.9L97.5,1146.4L181.0,1190.9Z"/></clipPath><filter id="tf20" filterUnits="userSpaceOnUse" x="21" y="987" width="163" height="206" color-interpolation-filters="sRGB"><feTurbulence type="fractalNoise" baseFrequency="0.7" numOctaves="2" seed="42"/><feColorMatrix type="matrix" values="1 0 0 0 0 1 0 0 0 0 1 0 0 0 0 1 0 0 0 0"/><feComponentTransfer><feFuncR type="discrete" tableValues="1 1 1 1 1 1 1 1 1 1 1 1 1 1 0 0 0 0 0 0 0 0 0 0 0 0 0 0 0 0 0.416 0.416 0.416 0.416 0.416 0.416 0.416 0.416 0.416 0.416 0.416 0.416 0.416 0.416 0.416 0.416 0.416 0.416"/><feFuncG type="discrete" tableValues="1 1 1 1 1 1 1 1 1 1 1 1 1 1 0 0 0 0 0 0 0 0 0 0 0 0 0 0 0 0 0.62 0.62 0.62 0.62 0.62 0.62 0.62 0.62 0.62 0.62 0.62 0.62 0.62 0.62 0.62 0.62 0.62 0.62"/><feFuncB type="discrete" tableValues="1 1 1 1 1 1 1 1 1 1 1 1 1 1 0 0 0 0 0 0 0 0 0 0 0 0 0 0 0 0 0.878 0.878 0.878 0.878 0.878 0.878 0.878 0.878 0.878 0.878 0.878 0.878 0.878 0.878 0.878 0.878 0.878 0.878"/><feFuncA type="discrete" tableValues="1 1 1 1 1 1 1 1 1 1 1 1 1 1 0 0 0 0 0 0 0 0 0 0 0 0 0 0 0 0 1 1 1 1 1 1 1 1 1 1 1 1 1 1 1 1 1 1"/></feComponentTransfer></filter><clipPath id="tc20"><path d="M178.7,989.5L23.4,1036.2L23.4,1106.8L181.0,1190.9Z"/></clipPath><pattern id="p13" patternUnits="userSpaceOnUse" width="35" height="35"><circle cx="4.6" cy="4.7" r="2.1" fill="#7f9ad0"/><circle cx="3.4" cy="9.6" r="1.9" fill="#7f9ad0"/><circle cx="1.7" cy="18.1" r="1.7" fill="#7f9ad0"/><circle cx="3.4" cy="25.4" r="2.0" fill="#7f9ad0"/><circle cx="3.0" cy="32.5" r="1.8" fill="#7f9ad0"/><circle cx="9.7" cy="4.6" r="1.7" fill="#7f9ad0"/><circle cx="11.3" cy="10.2" r="1.9" fill="#7f9ad0"/><circle cx="10.6" cy="18.2" r="1.7" fill="#7f9ad0"/><circle cx="9.4" cy="24.7" r="1.7" fill="#7f9ad0"/><circle cx="11.6" cy="30.7" r="2.1" fill="#7f9ad0"/><circle cx="18.6" cy="4.2" r="2.0" fill="#7f9ad0"/><circle cx="18.7" cy="9.9" r="1.6" fill="#7f9ad0"/><circle cx="16.0" cy="18.6" r="2.1" fill="#7f9ad0"/><circle cx="18.6" cy="24.3" r="1.6" fill="#7f9ad0"/><circle cx="16.0" cy="30.4" r="1.8" fill="#7f9ad0"/><circle cx="25.0" cy="2.7" r="2.1" fill="#7f9ad0"/><circle cx="26.1" cy="10.8" r="2.0" fill="#7f9ad0"/><circle cx="23.4" cy="18.1" r="1.8" fill="#7f9ad0"/><circle cx="24.0" cy="26.1" r="1.8" fill="#7f9ad0"/><circle cx="26.0" cy="31.6" r="1.8" fill="#7f9ad0"/><circle cx="32.0" cy="4.2" r="1.7" fill="#7f9ad0"/><circle cx="32.6" cy="12.2" r="2.2" fill="#7f9ad0"/><circle cx="29.8" cy="17.0" r="1.6" fill="#7f9ad0"/><circle cx="31.9" cy="23.8" r="1.9" fill="#7f9ad0"/><circle cx="31.8" cy="30.0" r="2.0" fill="#7f9ad0"/><circle cx="4.6" cy="4.7" r="1.1" fill="#66700f"/><circle cx="3.4" cy="9.6" r="1.3" fill="#66700f"/><circle cx="1.7" cy="18.1" r="1.0" fill="#66700f"/><circle cx="3.4" cy="25.4" r="1.3" fill="#66700f"/><circle cx="3.0" cy="32.5" r="1.2" fill="#66700f"/><circle cx="9.7" cy="4.6" r="1.2" fill="#66700f"/><circle cx="11.3" cy="10.2" r="1.2" fill="#66700f"/><circle cx="10.6" cy="18.2" r="1.1" fill="#66700f"/><circle cx="9.4" cy="24.7" r="1.2" fill="#66700f"/><circle cx="11.6" cy="30.7" r="1.2" fill="#66700f"/><circle cx="18.6" cy="4.2" r="1.1" fill="#66700f"/><circle cx="18.7" cy="9.9" r="1.1" fill="#66700f"/><circle cx="16.0" cy="18.6" r="1.2" fill="#66700f"/><circle cx="18.6" cy="24.3" r="1.1" fill="#66700f"/><circle cx="16.0" cy="30.4" r="1.0" fill="#66700f"/><circle cx="25.0" cy="2.7" r="1.2" fill="#66700f"/><circle cx="26.1" cy="10.8" r="1.0" fill="#66700f"/><circle cx="23.4" cy="18.1" r="1.1" fill="#66700f"/><circle cx="24.0" cy="26.1" r="1.2" fill="#66700f"/><circle cx="26.0" cy="31.6" r="1.0" fill="#66700f"/><circle cx="32.0" cy="4.2" r="0.9" fill="#66700f"/><circle cx="32.6" cy="12.2" r="1.0" fill="#66700f"/><circle cx="29.8" cy="17.0" r="1.1" fill="#66700f"/><circle cx="31.9" cy="23.8" r="1.1" fill="#66700f"/><circle cx="31.8" cy="30.0" r="1.0" fill="#66700f"/></pattern><clipPath id="tc21"><path d="M178.7,989.5L23.4,1036.2L23.4,1106.8L181.0,1190.9Z"/></clipPath><filter id="tf22" filterUnits="userSpaceOnUse" x="21" y="987" width="163" height="206" color-interpolation-filters="sRGB"><feTurbulence type="turbulence" baseFrequency="0.04" numOctaves="2" seed="44"/><feColorMatrix type="matrix" values="1 0 0 0 0 1 0 0 0 0 1 0 0 0 0 1 0 0 0 0"/><feComponentTransfer><feFuncR type="discrete" tableValues="1 1 0.992 0.992 0 0 0 0 0 0 0 0 0 0 0 0 0 0 0 0 0 0 0 0 0 0 0 0 0 0 0 0 0 0 0 0 0 0 0 0 0 0 0 0 0 0 0 0 0 0 0 0 0 0 0 0 0 0 0 0 0 0 0 0"/><feFuncG type="discrete" tableValues="1 1 0.933 0.933 0 0 0 0 0 0 0 0 0 0 0 0 0 0 0 0 0 0 0 0 0 0 0 0 0 0 0 0 0 0 0 0 0 0 0 0 0 0 0 0 0 0 0 0 0 0 0 0 0 0 0 0 0 0 0 0 0 0 0 0"/><feFuncB type="discrete" tableValues="1 1 0.902 0.902 0 0 0 0 0 0 0 0 0 0 0 0 0 0 0 0 0 0 0 0 0 0 0 0 0 0 0 0 0 0 0 0 0 0 0 0 0 0 0 0 0 0 0 0 0 0 0 0 0 0 0 0 0 0 0 0 0 0 0 0"/><feFuncA type="discrete" tableValues="1 1 1 1 0 0 0 0 0 0 0 0 0 0 0 0 0 0 0 0 0 0 0 0 0 0 0 0 0 0 0 0 0 0 0 0 0 0 0 0 0 0 0 0 0 0 0 0 0 0 0 0 0 0 0 0 0 0 0 0 0 0 0 0"/></feComponentTransfer></filter><clipPath id="tc22"><path d="M178.7,989.5L23.4,1036.2L23.4,1106.8L181.0,1190.9Z"/></clipPath><filter id="soft" x="0" y="0" width="200" height="1315" filterUnits="userSpaceOnUse"><feGaussianBlur stdDeviation="0.45"/></filter></defs><g filter="url(#soft)"><g clip-path="url(#tc1)"><rect x="84" y="60" width="95" height="184" fill="#c9bbbb" filter="url(#tf1)"/></g><g clip-path="url(#tc2)"><rect x="84" y="60" width="95" height="184" fill="#000" fill-opacity="0" filter="url(#tf2)"/></g><g clip-path="url(#tc3)"><rect x="84" y="60" width="95" height="184" fill="#000" fill-opacity="0" filter="url(#tf3)"/></g><g clip-path="url(#tc4)"><rect x="147" y="187" width="24" height="26" fill="#f95c8a" filter="url(#tf4)"/></g><g filter="url(#wob)"><path d="M86.4,122.3L89.6,111.0L96.1,101.4L102.5,96.6L104.1,86.9L102.5,80.5L107.3,72.5L116.9,67.7L126.6,64.5L134.6,62.0L142.6,64.5L149.1,70.9L150.7,78.9L149.1,86.9L155.5,90.1L163.5,96.6L165.1,104.6L163.5,114.2L157.1,119.1L147.4,122.3L133.0,123.9L120.1,125.5L108.9,128.7L97.7,131.9L89.6,130.3L86.4,127.1Z" fill="none" stroke="#f5005a" stroke-width="2.6" stroke-dasharray="2.5 0.6 1 0.5"/><path d="M110.5,152.8L120.1,146.4L133.0,141.5L147.4,137.5L160.3,135.1L167.5,137.5L172.3,146.4L175.6,159.2L176.4,172.0L174.7,181.7L169.9,189.7L167.5,194.5L169.1,204.2L166.7,210.6L161.9,217.0L161.9,226.7L158.7,234.7L150.7,240.3L139.4,241.1L128.2,238.7L121.0,231.5L118.5,220.2L116.9,212.2L108.9,209.0L102.5,204.2L99.3,194.5L102.5,184.9L107.3,178.5L108.1,168.8L108.9,160.8Z" fill="none" stroke="#f5005a" stroke-width="2.6" stroke-dasharray="2.5 0.6 1 0.5"/><circle cx="112.1" cy="81" r="7.0" fill="none" stroke="#00e040" stroke-width="1.2"/><circle cx="112.1" cy="81" r="5.6" fill="#5f6d00"/><circle cx="112.39999999999999" cy="81.2" r="2.2" fill="#fff"/><circle cx="134.6" cy="76.1" r="3.5" fill="#5f6d00"/><circle cx="110.5" cy="107.4" r="4.6" fill="none" stroke="#00e040" stroke-width="1.2"/><circle cx="110.5" cy="107.4" r="3.2" fill="#5f6d00"/><circle cx="104" cy="101" r="2.3" fill="#5f6d00"/><circle cx="99.3" cy="121.1" r="7.0" fill="none" stroke="#00e040" stroke-width="1.2"/><circle cx="99.3" cy="121.1" r="5.6" fill="#5f6d00"/><circle cx="99.6" cy="121.3" r="2.2" fill="#fff"/><circle cx="137" cy="109" r="7" fill="#00e040"/><circle cx="137" cy="109" r="4" fill="#5f6d00"/><circle cx="137.3" cy="109.2" r="1.6" fill="#fff"/><circle cx="155.5" cy="105.8" r="6.9" fill="none" stroke="#00e040" stroke-width="1.2"/><circle cx="155.5" cy="105.8" r="5.5" fill="#5f6d00"/><circle cx="154.7" cy="145.2" r="5.4" fill="none" stroke="#00e040" stroke-width="1.2"/><circle cx="154.7" cy="145.2" r="4" fill="#5f6d00"/><circle cx="155.0" cy="145.39999999999998" r="1.6" fill="#fff"/><circle cx="122.6" cy="163.7" r="6.9" fill="none" stroke="#00e040" stroke-width="1.2"/><circle cx="122.6" cy="163.7" r="5.5" fill="#5f6d00"/><circle cx="122.89999999999999" cy="163.89999999999998" r="2.2" fill="#fff"/><circle cx="136.2" cy="174.9" r="8.5" fill="#00e040"/><circle cx="136.2" cy="174.9" r="5.5" fill="#5f6d00"/><circle cx="136.5" cy="175.1" r="2.2" fill="#fff"/><circle cx="164.3" cy="176.5" r="3.5" fill="#5f6d00"/><circle cx="111.3" cy="196.6" r="6.9" fill="none" stroke="#00e040" stroke-width="1.2"/><circle cx="111.3" cy="196.6" r="5.5" fill="#5f6d00"/><circle cx="111.6" cy="196.79999999999998" r="2.2" fill="#fff"/><circle cx="135.4" cy="212.6" r="5.4" fill="none" stroke="#00e040" stroke-width="1.2"/><circle cx="135.4" cy="212.6" r="4" fill="#5f6d00"/><circle cx="135.70000000000002" cy="212.79999999999998" r="1.6" fill="#fff"/></g><g clip-path="url(#tc5)"><rect x="87" y="317" width="102" height="168" fill="#d1d1d8" filter="url(#tf5)"/></g><g clip-path="url(#tc6)"><rect x="87" y="317" width="102" height="168" fill="#000" fill-opacity="0" filter="url(#tf6)"/></g><g clip-path="url(#tc7)"><rect x="87" y="317" width="102" height="168" fill="#000" fill-opacity="0" filter="url(#tf7)"/></g><g clip-path="url(#tc8)"><rect x="130" y="292" width="26" height="49" fill="#2ad95f" filter="url(#tf8)"/></g><g clip-path="url(#tc9)"><rect x="139" y="277" width="40" height="38" fill="#ecc9db" filter="url(#tf9)"/></g><path d="M135.5,303.9L139.0,301.3L146.0,298.6L153.0,296.0L160.0,292.5L163.5,289.9L167.9,290.8L169.7,296.0L167.0,301.3L160.0,303.9L153.9,306.5L148.6,310.0L145.1,313.5L142.5,318.8L138.1,320.5L135.5,316.2L134.6,310.0Z" fill="#fff" stroke="#0000f0" stroke-width="2" stroke-linejoin="round"/><g clip-path="url(#tc10)"><rect x="135" y="336" width="27" height="62" fill="#efef40" filter="url(#tf10)"/></g><ellipse cx="101.9" cy="330.4" rx="4.4" ry="7.9" fill="#00e040"/><ellipse cx="101.9" cy="330.4" rx="3" ry="6.5" fill="#0000f0"/><ellipse cx="101.9" cy="330.4" rx="1.4" ry="2.9" fill="#fff"/><ellipse cx="128.4" cy="364.1" rx="4.4" ry="3.9" fill="#00e040"/><ellipse cx="128.4" cy="364.1" rx="3" ry="2.5" fill="#0000f0"/><ellipse cx="128.4" cy="364.1" rx="1.4" ry="1.1" fill="#fff"/><ellipse cx="109.1" cy="398.7" rx="4.9" ry="5.4" fill="#00e040"/><ellipse cx="109.1" cy="398.7" rx="3.5" ry="4" fill="#0000f0"/><ellipse cx="109.1" cy="398.7" rx="1.6" ry="1.8" fill="#fff"/><ellipse cx="139.6" cy="403.5" rx="5.9" ry="5.199999999999999" fill="#00e040"/><ellipse cx="139.6" cy="403.5" rx="4.5" ry="3.8" fill="#0000f0"/><ellipse cx="139.6" cy="403.5" rx="2.0" ry="1.7" fill="#fff"/><ellipse cx="128.4" cy="414.7" rx="3.4" ry="3.4" fill="#00e040"/><ellipse cx="128.4" cy="414.7" rx="2" ry="2" fill="#0000f0"/><ellipse cx="128.4" cy="414.7" rx="0.9" ry="0.9" fill="#fff"/><ellipse cx="139.6" cy="442" rx="7.4" ry="6.4" fill="#00e040"/><ellipse cx="139.6" cy="442" rx="6" ry="5" fill="#0000f0"/><ellipse cx="139.6" cy="442" rx="2.7" ry="2.2" fill="#fff"/><ellipse cx="130" cy="446" rx="3.4" ry="3.4" fill="#00e040"/><ellipse cx="130" cy="446" rx="2" ry="2" fill="#0000f0"/><ellipse cx="130" cy="446" rx="0.9" ry="0.9" fill="#fff"/><ellipse cx="163.7" cy="437.2" rx="3.0" ry="3.0" fill="#00e040"/><ellipse cx="163.7" cy="437.2" rx="1.6" ry="1.6" fill="#0000f0"/><ellipse cx="163.7" cy="437.2" rx="0.7" ry="0.7" fill="#fff"/><ellipse cx="115.5" cy="366.5" rx="3.0" ry="2.8" fill="#00e040"/><ellipse cx="115.5" cy="366.5" rx="1.6" ry="1.4" fill="#0000f0"/><ellipse cx="115.5" cy="366.5" rx="0.7" ry="0.6" fill="#fff"/><path d="M104,378 L112,376 L114,386 L108,392" fill="none" stroke="#00e040" stroke-width="2.5"/><circle cx="111.5" cy="323.2" r="2.6" fill="#5f6d00" opacity="0.9"/><circle cx="97.8" cy="326.4" r="2.2" fill="#5f6d00" opacity="0.9"/><circle cx="91.4" cy="355.3" r="2.5" fill="#5f6d00" opacity="0.9"/><circle cx="102.7" cy="345.7" r="2.2" fill="#5f6d00" opacity="0.9"/><circle cx="128.4" cy="398.7" r="2.4" fill="#5f6d00" opacity="0.9"/><circle cx="110.7" cy="430.8" r="2.8" fill="#5f6d00" opacity="0.9"/><circle cx="113.1" cy="456.5" r="2.8" fill="#5f6d00" opacity="0.9"/><circle cx="171.7" cy="399.5" r="2.2" fill="#5f6d00" opacity="0.9"/><circle cx="171.7" cy="414.7" r="2.2" fill="#5f6d00" opacity="0.9"/><circle cx="162.1" cy="426" r="2" fill="#5f6d00" opacity="0.9"/><circle cx="150.8" cy="438.8" r="2.2" fill="#5f6d00" opacity="0.9"/><circle cx="97" cy="392.2" r="2.2" fill="#5f6d00" opacity="0.9"/><g clip-path="url(#tc11)"><rect x="80" y="508" width="115" height="230" fill="#bbb7bc" filter="url(#tf11)"/></g><g clip-path="url(#tc12)" opacity="0.8"><rect x="80" y="508" width="115" height="230" fill="#000" fill-opacity="0" filter="url(#tf12)"/></g><g clip-path="url(#tc13)"><rect x="80" y="508" width="115" height="230" fill="#000" fill-opacity="0" filter="url(#tf13)"/></g><g clip-path="url(#tc14)" opacity="0.8"><rect x="81" y="543" width="99" height="181" fill="#eeded9" filter="url(#tf14)"/></g><path d="M83.5,541 L100,553 L118,563 L131,572" fill="none" stroke="#fff" stroke-width="2.2" opacity="0.9"/><path d="M150,588 L165,604 L180,614" fill="none" stroke="#fff" stroke-width="2" opacity="0.9"/><ellipse cx="101" cy="587" rx="2.5" ry="6" fill="#c79ab8" opacity="0.75"/><ellipse cx="127" cy="603" rx="3.5" ry="5" fill="#c79ab8" opacity="0.75"/><ellipse cx="127" cy="632" rx="3" ry="5" fill="#c79ab8" opacity="0.75"/><ellipse cx="122" cy="660" rx="2.5" ry="12" fill="#c79ab8" opacity="0.75"/><ellipse cx="145" cy="650" rx="4" ry="10" fill="#c79ab8" opacity="0.75"/><ellipse cx="100" cy="640" rx="2" ry="5" fill="#c79ab8" opacity="0.75"/><ellipse cx="108" cy="530" rx="2" ry="1.5" fill="#fff" stroke="#0000f0" stroke-width="1.6" transform="rotate(0 108 530)"/><ellipse cx="103" cy="550" rx="2" ry="3" fill="#fff" stroke="#0000f0" stroke-width="1.6" transform="rotate(0 103 550)"/><ellipse cx="127" cy="601" rx="1.8" ry="3" fill="#fff" stroke="#0000f0" stroke-width="1.6" transform="rotate(0 127 601)"/><ellipse cx="113" cy="629" rx="1.8" ry="1.8" fill="#fff" stroke="#0000f0" stroke-width="1.6" transform="rotate(0 113 629)"/><ellipse cx="128" cy="631" rx="1.5" ry="1.5" fill="#fff" stroke="#0000f0" stroke-width="1.6" transform="rotate(0 128 631)"/><ellipse cx="160" cy="602" rx="4.5" ry="1.6" fill="#fff" stroke="#0000f0" stroke-width="1.6" transform="rotate(30 160 602)"/><ellipse cx="163" cy="625" rx="5" ry="1.8" fill="#fff" stroke="#0000f0" stroke-width="1.6" transform="rotate(40 163 625)"/><ellipse cx="158" cy="607" rx="1.5" ry="2.5" fill="#fff" stroke="#0000f0" stroke-width="1.6" transform="rotate(0 158 607)"/><ellipse cx="146" cy="647" rx="2.5" ry="5" fill="#fff" stroke="#0000f0" stroke-width="1.6" transform="rotate(10 146 647)"/><ellipse cx="144" cy="665" rx="1.5" ry="6" fill="#fff" stroke="#0000f0" stroke-width="1.6" transform="rotate(20 144 665)"/><ellipse cx="93" cy="662" rx="1.5" ry="6" fill="#fff" stroke="#0000f0" stroke-width="1.6" transform="rotate(20 93 662)"/><ellipse cx="110" cy="672" rx="1.5" ry="5" fill="#fff" stroke="#0000f0" stroke-width="1.6" transform="rotate(30 110 672)"/><ellipse cx="124" cy="675" rx="1.5" ry="6" fill="#fff" stroke="#0000f0" stroke-width="1.6" transform="rotate(0 124 675)"/><ellipse cx="100" cy="700" rx="2" ry="3" fill="#fff" stroke="#0000f0" stroke-width="1.6" transform="rotate(0 100 700)"/><ellipse cx="120" cy="545" rx="1.5" ry="2" fill="#fff" stroke="#0000f0" stroke-width="1.6" transform="rotate(0 120 545)"/><ellipse cx="137" cy="548" rx="1.5" ry="2.5" fill="#fff" stroke="#0000f0" stroke-width="1.6" transform="rotate(0 137 548)"/><ellipse cx="131" cy="540" rx="1.2" ry="2" fill="#fff" stroke="#0000f0" stroke-width="1.6" transform="rotate(0 131 540)"/><ellipse cx="112" cy="515" rx="1.5" ry="1.5" fill="#fff" stroke="#0000f0" stroke-width="1.6" transform="rotate(0 112 515)"/><ellipse cx="92" cy="590" rx="1.5" ry="3" fill="#fff" stroke="#0000f0" stroke-width="1.6" transform="rotate(0 92 590)"/><ellipse cx="125" cy="700" rx="1.5" ry="4" fill="#fff" stroke="#0000f0" stroke-width="1.6" transform="rotate(0 125 700)"/><ellipse cx="119.5" cy="600" rx="1.8" ry="12" fill="#fff" stroke="#00e040" stroke-width="1.6"/><path d="M121,614 Q128,622 134,628" fill="none" stroke="#00e040" stroke-width="2.2"/><path d="M128,640 Q124,660 121,690" fill="none" stroke="#00e040" stroke-width="1.3"/><ellipse cx="147" cy="601" rx="1.8" ry="3" fill="none" stroke="#00e040" stroke-width="1.2" transform="rotate(-40 147 601)"/><g clip-path="url(#tc15)"><rect x="71" y="751" width="108" height="221" fill="#a0a0c6" filter="url(#tf15)"/></g><rect x="71" y="751" width="108" height="221" fill="url(#p12)" clip-path="url(#tc16)"/><g clip-path="url(#tc17)"><rect x="71" y="751" width="108" height="221" fill="#000" fill-opacity="0" filter="url(#tf17)"/></g><path d="M100.0,790.0L110.0,784.0L125.0,795.0L140.0,806.0L138.0,813.0L126.0,808.0L112.0,800.0Z" fill="#ffffff" stroke="#ffffff" stroke-width="1.5" stroke-linejoin="round"/><path d="M92.0,868.0L104.0,864.0L111.0,872.0L109.0,882.0L100.0,880.0L93.0,875.0Z" fill="#ffffff" stroke="#ffffff" stroke-width="1.5" stroke-linejoin="round"/><path d="M145.5,891.0L150.0,890.0L151.0,900.0L146.0,902.0Z" fill="#ffffff" stroke="#ffffff" stroke-width="1.5" stroke-linejoin="round"/><path d="M80.0,840.0L92.0,838.0L100.0,845.0L96.0,852.0L85.0,850.0Z" fill="#ffffff" stroke="#ffffff" stroke-width="1.5" stroke-linejoin="round"/><path d="M112.0,810.0L124.0,812.0L126.0,818.0L114.0,816.0Z" fill="#ffffff" stroke="#ffffff" stroke-width="1.5" stroke-linejoin="round"/><ellipse cx="122.9" cy="896.0" rx="1.7" ry="2.6" fill="#eef" stroke="#0000f0" stroke-width="1.6" transform="rotate(-59 122.9 896.0)"/><ellipse cx="112.6" cy="813.2" rx="1.8" ry="4.7" fill="#eef" stroke="#0000f0" stroke-width="1.6" transform="rotate(12 112.6 813.2)"/><ellipse cx="131.5" cy="896.8" rx="1.1" ry="2.4" fill="#eef" stroke="#0000f0" stroke-width="1.6" transform="rotate(-41 131.5 896.8)"/><ellipse cx="167.3" cy="766.7" rx="1.8" ry="2.6" fill="#eef" stroke="#0000f0" stroke-width="1.6" transform="rotate(22 167.3 766.7)"/><ellipse cx="108.7" cy="841.4" rx="1.8" ry="2.5" fill="#eef" stroke="#0000f0" stroke-width="1.6" transform="rotate(-53 108.7 841.4)"/><ellipse cx="168.2" cy="863.9" rx="1.1" ry="3.5" fill="#eef" stroke="#0000f0" stroke-width="1.6" transform="rotate(54 168.2 863.9)"/><ellipse cx="85.6" cy="845.4" rx="1.1" ry="2.1" fill="#eef" stroke="#0000f0" stroke-width="1.6" transform="rotate(15 85.6 845.4)"/><ellipse cx="90.8" cy="904.5" rx="1.1" ry="1.7" fill="#eef" stroke="#0000f0" stroke-width="1.6" transform="rotate(38 90.8 904.5)"/><ellipse cx="115.3" cy="844.5" rx="1.6" ry="3.5" fill="#eef" stroke="#0000f0" stroke-width="1.6" transform="rotate(-14 115.3 844.5)"/><ellipse cx="142.4" cy="831.0" rx="1.4" ry="3.6" fill="#eef" stroke="#0000f0" stroke-width="1.6" transform="rotate(21 142.4 831.0)"/><ellipse cx="85.7" cy="804.8" rx="1.4" ry="3.1" fill="#eef" stroke="#0000f0" stroke-width="1.6" transform="rotate(37 85.7 804.8)"/><ellipse cx="125.5" cy="760.1" rx="1.8" ry="3.9" fill="#eef" stroke="#0000f0" stroke-width="1.6" transform="rotate(2 125.5 760.1)"/><ellipse cx="96.9" cy="846.3" rx="1.4" ry="3.8" fill="#eef" stroke="#0000f0" stroke-width="1.6" transform="rotate(-48 96.9 846.3)"/><ellipse cx="130.6" cy="792.5" rx="1.7" ry="2.3" fill="#eef" stroke="#0000f0" stroke-width="1.6" transform="rotate(-27 130.6 792.5)"/><ellipse cx="109.5" cy="891.6" rx="1.1" ry="2.3" fill="#eef" stroke="#0000f0" stroke-width="1.6" transform="rotate(-35 109.5 891.6)"/><ellipse cx="103.0" cy="856.9" rx="2.0" ry="4.3" fill="#eef" stroke="#0000f0" stroke-width="1.6" transform="rotate(55 103.0 856.9)"/><ellipse cx="111.5" cy="794.9" rx="1.7" ry="5.3" fill="#eef" stroke="#0000f0" stroke-width="1.6" transform="rotate(-59 111.5 794.9)"/><ellipse cx="101.6" cy="920.5" rx="1.3" ry="2.4" fill="#eef" stroke="#0000f0" stroke-width="1.6" transform="rotate(-59 101.6 920.5)"/><ellipse cx="125.9" cy="759.2" rx="1.3" ry="3.7" fill="#eef" stroke="#0000f0" stroke-width="1.6" transform="rotate(40 125.9 759.2)"/><ellipse cx="139.9" cy="803.6" rx="1.5" ry="3.4" fill="#eef" stroke="#0000f0" stroke-width="1.6" transform="rotate(15 139.9 803.6)"/><ellipse cx="166.1" cy="789.0" rx="1.3" ry="3.8" fill="#eef" stroke="#0000f0" stroke-width="1.6" transform="rotate(-27 166.1 789.0)"/><ellipse cx="145.7" cy="906.2" rx="1.2" ry="2.2" fill="#eef" stroke="#0000f0" stroke-width="1.6" transform="rotate(-29 145.7 906.2)"/><ellipse cx="144.4" cy="903.9" rx="1.1" ry="3.4" fill="#eef" stroke="#0000f0" stroke-width="1.6" transform="rotate(-10 144.4 903.9)"/><ellipse cx="98.8" cy="848.0" rx="2.0" ry="4.7" fill="#eef" stroke="#0000f0" stroke-width="1.6" transform="rotate(15 98.8 848.0)"/><ellipse cx="152.3" cy="844.2" rx="1.6" ry="4.8" fill="#eef" stroke="#0000f0" stroke-width="1.6" transform="rotate(35 152.3 844.2)"/><ellipse cx="133.8" cy="829.1" rx="1.4" ry="3.7" fill="#eef" stroke="#0000f0" stroke-width="1.6" transform="rotate(8 133.8 829.1)"/><ellipse cx="129.1" cy="924.4" rx="1.4" ry="2.1" fill="#eef" stroke="#0000f0" stroke-width="1.6" transform="rotate(-18 129.1 924.4)"/><ellipse cx="106.1" cy="955.7" rx="1.7" ry="3.9" fill="#eef" stroke="#0000f0" stroke-width="1.6" transform="rotate(15 106.1 955.7)"/><ellipse cx="86.8" cy="869.4" rx="1.7" ry="3.5" fill="#eef" stroke="#0000f0" stroke-width="1.6" transform="rotate(-31 86.8 869.4)"/><ellipse cx="115.9" cy="823.9" rx="1.7" ry="2.6" fill="#eef" stroke="#0000f0" stroke-width="1.6" transform="rotate(-49 115.9 823.9)"/><ellipse cx="106.2" cy="904.3" rx="1.8" ry="4.5" fill="#eef" stroke="#0000f0" stroke-width="1.6" transform="rotate(52 106.2 904.3)"/><ellipse cx="111.7" cy="760.4" rx="1.5" ry="3.2" fill="#eef" stroke="#0000f0" stroke-width="1.6" transform="rotate(-38 111.7 760.4)"/><ellipse cx="142.7" cy="827.7" rx="1.2" ry="2.4" fill="#eef" stroke="#0000f0" stroke-width="1.6" transform="rotate(53 142.7 827.7)"/><ellipse cx="102.8" cy="797.5" rx="1.4" ry="2.5" fill="#eef" stroke="#0000f0" stroke-width="1.6" transform="rotate(50 102.8 797.5)"/><ellipse cx="125.6" cy="904.8" rx="1.2" ry="2.5" fill="#eef" stroke="#0000f0" stroke-width="1.6" transform="rotate(13 125.6 904.8)"/><ellipse cx="160.8" cy="808.0" rx="1.5" ry="4.3" fill="#eef" stroke="#0000f0" stroke-width="1.6" transform="rotate(40 160.8 808.0)"/><ellipse cx="97.4" cy="870.2" rx="1.8" ry="3.6" fill="#eef" stroke="#0000f0" stroke-width="1.6" transform="rotate(21 97.4 870.2)"/><ellipse cx="142.3" cy="964.0" rx="1.6" ry="4.0" fill="#eef" stroke="#0000f0" stroke-width="1.6" transform="rotate(-18 142.3 964.0)"/><ellipse cx="149.4" cy="823.6" rx="1.5" ry="3.0" fill="#eef" stroke="#0000f0" stroke-width="1.6" transform="rotate(-23 149.4 823.6)"/><ellipse cx="88.0" cy="802.7" rx="1.5" ry="2.7" fill="#eef" stroke="#0000f0" stroke-width="1.6" transform="rotate(-54 88.0 802.7)"/><ellipse cx="156.8" cy="815.7" rx="1.9" ry="4.7" fill="#eef" stroke="#0000f0" stroke-width="1.6" transform="rotate(-13 156.8 815.7)"/><ellipse cx="163.9" cy="947.8" rx="1.3" ry="2.0" fill="#eef" stroke="#0000f0" stroke-width="1.6" transform="rotate(17 163.9 947.8)"/><ellipse cx="160.8" cy="885.4" rx="1.8" ry="3.7" fill="#eef" stroke="#0000f0" stroke-width="1.6" transform="rotate(14 160.8 885.4)"/><ellipse cx="101.1" cy="841.9" rx="1.4" ry="2.8" fill="#eef" stroke="#0000f0" stroke-width="1.6" transform="rotate(-12 101.1 841.9)"/><ellipse cx="157.1" cy="790.7" rx="1.2" ry="2.1" fill="#eef" stroke="#0000f0" stroke-width="1.6" transform="rotate(57 157.1 790.7)"/><ellipse cx="127.8" cy="765.4" rx="1.8" ry="5.4" fill="#eef" stroke="#0000f0" stroke-width="1.6" transform="rotate(39 127.8 765.4)"/><ellipse cx="111.0" cy="912.7" rx="1.3" ry="2.0" fill="#eef" stroke="#0000f0" stroke-width="1.6" transform="rotate(44 111.0 912.7)"/><ellipse cx="159.8" cy="799.6" rx="1.9" ry="2.5" fill="#eef" stroke="#0000f0" stroke-width="1.6" transform="rotate(-23 159.8 799.6)"/><ellipse cx="75.3" cy="790.9" rx="1.2" ry="3.1" fill="#eef" stroke="#0000f0" stroke-width="1.6" transform="rotate(-24 75.3 790.9)"/><ellipse cx="93.6" cy="793.8" rx="1.3" ry="3.9" fill="#eef" stroke="#0000f0" stroke-width="1.6" transform="rotate(13 93.6 793.8)"/><ellipse cx="129.2" cy="850.9" rx="1.5" ry="3.9" fill="#eef" stroke="#0000f0" stroke-width="1.6" transform="rotate(36 129.2 850.9)"/><ellipse cx="126.0" cy="891.3" rx="1.5" ry="3.7" fill="#eef" stroke="#0000f0" stroke-width="1.6" transform="rotate(-13 126.0 891.3)"/><ellipse cx="116.7" cy="865.6" rx="1.7" ry="3.1" fill="#eef" stroke="#0000f0" stroke-width="1.6" transform="rotate(51 116.7 865.6)"/><ellipse cx="124.6" cy="938.8" rx="1.7" ry="5.3" fill="#eef" stroke="#0000f0" stroke-width="1.6" transform="rotate(22 124.6 938.8)"/><ellipse cx="118.0" cy="841.7" rx="1.6" ry="4.4" fill="#eef" stroke="#0000f0" stroke-width="1.6" transform="rotate(41 118.0 841.7)"/><ellipse cx="87.3" cy="767.5" rx="1.1" ry="1.6" fill="#eef" stroke="#0000f0" stroke-width="1.6" transform="rotate(-53 87.3 767.5)"/><ellipse cx="137.4" cy="962.6" rx="2.0" ry="5.3" fill="#eef" stroke="#0000f0" stroke-width="1.6" transform="rotate(54 137.4 962.6)"/><ellipse cx="76.9" cy="803.2" rx="1.9" ry="4.2" fill="#eef" stroke="#0000f0" stroke-width="1.6" transform="rotate(-35 76.9 803.2)"/><ellipse cx="152.0" cy="845.5" rx="1.5" ry="2.9" fill="#eef" stroke="#0000f0" stroke-width="1.6" transform="rotate(-31 152.0 845.5)"/><ellipse cx="152.8" cy="955.6" rx="1.4" ry="2.5" fill="#eef" stroke="#0000f0" stroke-width="1.6" transform="rotate(51 152.8 955.6)"/><ellipse cx="135.8" cy="898.5" rx="1.0" ry="1.8" fill="#eef" stroke="#0000f0" stroke-width="1.6" transform="rotate(-2 135.8 898.5)"/><ellipse cx="149.3" cy="932.4" rx="1.8" ry="3.4" fill="#eef" stroke="#0000f0" stroke-width="1.6" transform="rotate(-14 149.3 932.4)"/><ellipse cx="162.8" cy="967.7" rx="1.5" ry="2.5" fill="#eef" stroke="#0000f0" stroke-width="1.6" transform="rotate(15 162.8 967.7)"/><ellipse cx="129.2" cy="832.1" rx="1.2" ry="2.5" fill="#eef" stroke="#0000f0" stroke-width="1.6" transform="rotate(13 129.2 832.1)"/><ellipse cx="87.1" cy="870.8" rx="2.0" ry="5.3" fill="#eef" stroke="#0000f0" stroke-width="1.6" transform="rotate(-30 87.1 870.8)"/><ellipse cx="117.1" cy="776.1" rx="1.7" ry="4.3" fill="#eef" stroke="#0000f0" stroke-width="1.6" transform="rotate(-39 117.1 776.1)"/><ellipse cx="130.5" cy="882.7" rx="1.6" ry="3.2" fill="#eef" stroke="#0000f0" stroke-width="1.6" transform="rotate(-23 130.5 882.7)"/><ellipse cx="110.5" cy="969.5" rx="1.3" ry="3.0" fill="#eef" stroke="#0000f0" stroke-width="1.6" transform="rotate(-5 110.5 969.5)"/><ellipse cx="91.8" cy="840.3" rx="1.2" ry="2.3" fill="#eef" stroke="#0000f0" stroke-width="1.6" transform="rotate(-16 91.8 840.3)"/><ellipse cx="110.0" cy="956.6" rx="1.3" ry="2.5" fill="#eef" stroke="#0000f0" stroke-width="1.6" transform="rotate(19 110.0 956.6)"/><ellipse cx="114.9" cy="865.4" rx="1.6" ry="2.4" fill="#eef" stroke="#0000f0" stroke-width="1.6" transform="rotate(21 114.9 865.4)"/><ellipse cx="84.4" cy="808.0" rx="1.8" ry="5.8" fill="#eef" stroke="#0000f0" stroke-width="1.6" transform="rotate(21 84.4 808.0)"/><ellipse cx="91.7" cy="848.7" rx="1.3" ry="3.7" fill="#eef" stroke="#0000f0" stroke-width="1.6" transform="rotate(-32 91.7 848.7)"/><ellipse cx="94.2" cy="891.8" rx="1.6" ry="4.0" fill="#eef" stroke="#0000f0" stroke-width="1.6" transform="rotate(-3 94.2 891.8)"/><ellipse cx="170.5" cy="838.6" rx="1.5" ry="2.9" fill="#eef" stroke="#0000f0" stroke-width="1.6" transform="rotate(26 170.5 838.6)"/><ellipse cx="151.4" cy="805.7" rx="1.5" ry="4.1" fill="#eef" stroke="#0000f0" stroke-width="1.6" transform="rotate(0 151.4 805.7)"/><ellipse cx="142.2" cy="887.1" rx="1.7" ry="3.4" fill="#eef" stroke="#0000f0" stroke-width="1.6" transform="rotate(-23 142.2 887.1)"/><ellipse cx="155.4" cy="838.3" rx="2.0" ry="5.9" fill="#eef" stroke="#0000f0" stroke-width="1.6" transform="rotate(-42 155.4 838.3)"/><ellipse cx="160.2" cy="844.9" rx="1.3" ry="2.4" fill="#eef" stroke="#0000f0" stroke-width="1.6" transform="rotate(-10 160.2 844.9)"/><ellipse cx="79.3" cy="764.9" rx="1.1" ry="2.1" fill="#eef" stroke="#0000f0" stroke-width="1.6" transform="rotate(-41 79.3 764.9)"/><ellipse cx="113.1" cy="859.9" rx="1.6" ry="4.9" fill="#eef" stroke="#0000f0" stroke-width="1.6" transform="rotate(-42 113.1 859.9)"/><ellipse cx="128.4" cy="833.3" rx="1.2" ry="3.6" fill="#eef" stroke="#0000f0" stroke-width="1.6" transform="rotate(32 128.4 833.3)"/><ellipse cx="130.8" cy="924.9" rx="1.3" ry="2.9" fill="#eef" stroke="#0000f0" stroke-width="1.6" transform="rotate(49 130.8 924.9)"/><ellipse cx="160.4" cy="893.1" rx="1.4" ry="1.9" fill="#eef" stroke="#0000f0" stroke-width="1.6" transform="rotate(-1 160.4 893.1)"/><ellipse cx="111.0" cy="840.4" rx="1.1" ry="3.3" fill="#eef" stroke="#0000f0" stroke-width="1.6" transform="rotate(3 111.0 840.4)"/><ellipse cx="141.5" cy="850" rx="3.5" ry="3.8" fill="#fff" stroke="#0000f0" stroke-width="2"/><ellipse cx="112" cy="873" rx="2.2" ry="5" fill="#fff" stroke="#0000f0" stroke-width="1.8" transform="rotate(20 112 873)"/><g clip-path="url(#tc18)"><rect x="21" y="1011" width="79" height="138" fill="#f2bc9c" filter="url(#tf18)"/></g><g clip-path="url(#tc19)"><rect x="95" y="987" width="89" height="206" fill="#dcbcb0" filter="url(#tf19)"/></g><g clip-path="url(#tc20)"><rect x="21" y="987" width="163" height="206" fill="#000" fill-opacity="0" filter="url(#tf20)"/></g><rect x="21" y="987" width="163" height="206" fill="url(#p13)" clip-path="url(#tc21)"/><g clip-path="url(#tc22)"><rect x="21" y="987" width="163" height="206" fill="#000" fill-opacity="0" filter="url(#tf22)"/></g><g clip-path="url(#tc22)"><path d="M121,1011L140,1013L160,1015L179,1019M75,1033L88,1040L99.5,1047L116,1055L130,1060M22,1096L40,1093L56,1091L70,1094L83,1098M99.5,1045L104,1060L106.7,1076L102,1088L97,1098L90,1110L85,1120L78,1130M121,1110L140,1108L160,1106L180,1105M131,1141L140,1147L150,1153L158,1160M25,1050L40,1047L56,1045L70,1040L80,1035M150,1060L160,1070L172,1075L180,1078M106.7,1076L118,1082L128,1090" fill="none" stroke="#fdeee6" stroke-width="4.5" stroke-linejoin="round" stroke-linecap="round"/><path d="M121,1011L140,1013L160,1015L179,1019M75,1033L88,1040L99.5,1047L116,1055L130,1060M22,1096L40,1093L56,1091L70,1094L83,1098M99.5,1045L104,1060L106.7,1076L102,1088L97,1098L90,1110L85,1120L78,1130M121,1110L140,1108L160,1106L180,1105M131,1141L140,1147L150,1153L158,1160M25,1050L40,1047L56,1045L70,1040L80,1035M150,1060L160,1070L172,1075L180,1078M106.7,1076L118,1082L128,1090" fill="none" stroke="#fff" stroke-width="2.8" stroke-linejoin="round" stroke-linecap="round"/></g><path d="M36.8 1046.9l-0.4 -2.6M36.8 1046.9l1.3 2.6M36.8 1046.9l-2.4 1.6M177.5 1140.2l-2.9 -1.5M177.5 1140.2l2.7 1.4M55.7 1076.6l2.3 1.0M178.6 1114.8l3.4 -0.6M178.6 1114.8l-1.6 0.0M137.9 1080.8l2.2 0.0M137.9 1080.8l-2.1 -1.1M112.7 1152.0l1.2 -1.2M44.8 1071.2l-1.5 1.4M44.8 1071.2l0.5 -2.2M44.8 1071.2l3.0 0.0M38.6 1064.4l-2.0 1.3M38.6 1064.4l2.4 -0.7M32.8 1093.8l-1.3 0.9M32.8 1093.8l3.2 -0.8M54.8 1064.0l-0.1 -2.1M172.8 1149.4l0.2 -2.3M172.8 1149.4l-0.0 1.6M138.3 1107.9l1.5 -2.5M138.3 1107.9l-2.5 1.9M153.0 1102.7l2.2 -1.3M153.0 1102.7l-0.7 3.1M153.0 1102.7l-2.0 -1.1M130.1 1015.5l1.3 2.3M130.1 1015.5l-1.0 -1.2M113.4 1111.5l-1.5 1.1M113.4 1111.5l1.6 -1.8M147.2 1066.4l0.4 -1.6M147.2 1066.4l1.0 1.7M147.2 1066.4l-1.7 0.1M91.0 1098.1l-2.7 -2.1M91.0 1098.1l1.7 2.0M166.0 1020.0l2.9 -0.3M45.4 1030.8l-1.1 1.3M106.8 1086.5l1.8 -1.3M106.8 1086.5l-1.9 0.3M103.8 1021.3l-1.3 -3.3M103.8 1021.3l2.9 -1.1M103.8 1021.3l-0.9 2.0M161.2 1084.8l1.4 -2.7M161.2 1084.8l-1.3 1.5M35.8 1110.5l3.1 -0.1M35.8 1110.5l-3.1 -0.0M91.3 1059.0l-0.7 2.0M34.4 1100.4l-2.0 -0.4M34.4 1100.4l3.3 0.0M162.6 1121.3l2.4 1.4M162.6 1121.3l-2.8 -1.6M140.0 1096.9l-1.3 1.8M148.6 1090.4l1.2 1.8M56.4 1081.3l2.6 -1.8M56.4 1081.3l0.6 2.4M56.4 1081.3l-1.8 0.0M102.7 1135.8l-0.8 1.3M62.9 1100.2l2.1 -1.8M147.0 1052.2l-0.8 -3.4M147.0 1052.2l0.8 2.0M40.6 1039.0l-0.8 3.3M40.6 1039.0l1.1 -1.7M40.4 1114.8l-1.4 -2.6M40.4 1114.8l2.0 1.2M61.0 1043.2l1.5 0.5M61.0 1043.2l-3.2 0.3M61.0 1043.2l-0.9 -3.0M163.2 1059.0l2.5 -2.2M163.2 1059.0l-1.4 1.6M71.1 1045.2l2.6 0.9M82.1 1089.0l-3.0 0.7M160.8 1098.2l0.5 -3.4M160.8 1098.2l2.2 0.8M160.8 1098.2l-2.6 1.3M104.6 1113.3l-0.8 1.3M104.6 1113.3l1.3 -2.2M141.0 1166.8l-0.7 2.7M100.1 1065.2l2.1 -1.5M123.6 1078.1l-0.5 -2.9M123.6 1078.1l-1.1 1.9M66.7 1095.9l2.7 -1.0M66.7 1095.9l-2.5 -0.5M139.9 1059.0l2.8 1.4M139.9 1059.0l-3.0 -0.5M130.6 1153.8l2.3 -1.1M139.8 1153.1l0.7 2.9M139.8 1153.1l-0.6 -1.4M170.9 1126.3l2.1 -1.7M170.9 1126.3l-1.6 1.9M79.4 1097.7l1.5 1.1M79.4 1097.7l-0.3 -2.8M175.9 1072.5l0.8 1.9M175.9 1072.5l-1.5 -2.9M148.5 1172.6l-2.7 0.6M56.2 1060.6l2.8 0.9M56.2 1060.6l-1.7 -0.9M145.1 1085.5l-2.4 -1.8M145.1 1085.5l1.9 -1.9M145.1 1085.5l1.4 3.2M166.3 1056.9l-1.5 -0.5M166.3 1056.9l2.3 0.3M107.5 1038.4l-2.6 -1.5M179.5 1143.7l0.8 3.2M179.5 1143.7l0.5 -2.3M110.1 1110.7l1.3 -1.2M110.1 1110.7l-1.2 1.6M86.1 1080.2l-0.5 -1.8M86.1 1080.2l0.3 2.7M115.2 1107.1l3.3 -0.8M115.2 1107.1l-2.7 1.9M164.7 1027.2l1.3 -2.1M126.0 1119.2l-1.6 2.8M90.5 1017.7l1.4 -1.2M90.5 1017.7l-2.2 0.3M62.0 1120.6l0.7 1.4M62.0 1120.6l-1.8 -1.9M62.0 1120.6l1.9 -1.2M51.8 1075.8l-1.3 -1.6M51.8 1075.8l2.3 -0.1M51.8 1075.8l-1.2 1.2M75.2 1110.6l0.2 2.4M60.3 1126.0l-2.8 -1.4M60.3 1126.0l2.6 0.8M139.0 1082.2l1.6 -0.1M175.1 1005.3l-3.1 -0.2M140.0 1004.8l-1.9 -0.9M140.0 1004.8l2.1 -0.0M170.4 1101.8l-1.3 -1.3M170.4 1101.8l1.8 1.0M148.6 1044.2l1.0 -2.1M148.6 1044.2l-0.9 2.0M168.6 1098.9l-1.4 0.7M168.6 1098.9l0.3 -3.1M168.6 1098.9l1.8 0.9M128.2 1120.2l-1.5 1.6M128.2 1120.2l-2.1 -1.5M128.2 1120.2l2.4 -0.8M30.3 1074.4l-1.0 2.8M30.3 1074.4l2.7 -1.6M170.9 1087.8l-1.2 -2.2M170.9 1087.8l2.4 0.6M170.9 1087.8l-1.8 1.3" stroke="#00e040" stroke-width="2.8" stroke-linecap="round" fill="none"/><path d="M36.8 1046.9l-0.4 -2.6M36.8 1046.9l1.3 2.6M36.8 1046.9l-2.4 1.6M177.5 1140.2l-2.9 -1.5M177.5 1140.2l2.7 1.4M55.7 1076.6l2.3 1.0M178.6 1114.8l3.4 -0.6M178.6 1114.8l-1.6 0.0M137.9 1080.8l2.2 0.0M137.9 1080.8l-2.1 -1.1M112.7 1152.0l1.2 -1.2M44.8 1071.2l-1.5 1.4M44.8 1071.2l0.5 -2.2M44.8 1071.2l3.0 0.0M38.6 1064.4l-2.0 1.3M38.6 1064.4l2.4 -0.7M32.8 1093.8l-1.3 0.9M32.8 1093.8l3.2 -0.8M54.8 1064.0l-0.1 -2.1M172.8 1149.4l0.2 -2.3M172.8 1149.4l-0.0 1.6M138.3 1107.9l1.5 -2.5M138.3 1107.9l-2.5 1.9M153.0 1102.7l2.2 -1.3M153.0 1102.7l-0.7 3.1M153.0 1102.7l-2.0 -1.1M130.1 1015.5l1.3 2.3M130.1 1015.5l-1.0 -1.2M113.4 1111.5l-1.5 1.1M113.4 1111.5l1.6 -1.8M147.2 1066.4l0.4 -1.6M147.2 1066.4l1.0 1.7M147.2 1066.4l-1.7 0.1M91.0 1098.1l-2.7 -2.1M91.0 1098.1l1.7 2.0M166.0 1020.0l2.9 -0.3M45.4 1030.8l-1.1 1.3M106.8 1086.5l1.8 -1.3M106.8 1086.5l-1.9 0.3M103.8 1021.3l-1.3 -3.3M103.8 1021.3l2.9 -1.1M103.8 1021.3l-0.9 2.0M161.2 1084.8l1.4 -2.7M161.2 1084.8l-1.3 1.5M35.8 1110.5l3.1 -0.1M35.8 1110.5l-3.1 -0.0M91.3 1059.0l-0.7 2.0M34.4 1100.4l-2.0 -0.4M34.4 1100.4l3.3 0.0M162.6 1121.3l2.4 1.4M162.6 1121.3l-2.8 -1.6M140.0 1096.9l-1.3 1.8M148.6 1090.4l1.2 1.8M56.4 1081.3l2.6 -1.8M56.4 1081.3l0.6 2.4M56.4 1081.3l-1.8 0.0M102.7 1135.8l-0.8 1.3M62.9 1100.2l2.1 -1.8M147.0 1052.2l-0.8 -3.4M147.0 1052.2l0.8 2.0M40.6 1039.0l-0.8 3.3M40.6 1039.0l1.1 -1.7M40.4 1114.8l-1.4 -2.6M40.4 1114.8l2.0 1.2M61.0 1043.2l1.5 0.5M61.0 1043.2l-3.2 0.3M61.0 1043.2l-0.9 -3.0M163.2 1059.0l2.5 -2.2M163.2 1059.0l-1.4 1.6M71.1 1045.2l2.6 0.9M82.1 1089.0l-3.0 0.7M160.8 1098.2l0.5 -3.4M160.8 1098.2l2.2 0.8M160.8 1098.2l-2.6 1.3M104.6 1113.3l-0.8 1.3M104.6 1113.3l1.3 -2.2M141.0 1166.8l-0.7 2.7M100.1 1065.2l2.1 -1.5M123.6 1078.1l-0.5 -2.9M123.6 1078.1l-1.1 1.9M66.7 1095.9l2.7 -1.0M66.7 1095.9l-2.5 -0.5M139.9 1059.0l2.8 1.4M139.9 1059.0l-3.0 -0.5M130.6 1153.8l2.3 -1.1M139.8 1153.1l0.7 2.9M139.8 1153.1l-0.6 -1.4M170.9 1126.3l2.1 -1.7M170.9 1126.3l-1.6 1.9M79.4 1097.7l1.5 1.1M79.4 1097.7l-0.3 -2.8M175.9 1072.5l0.8 1.9M175.9 1072.5l-1.5 -2.9M148.5 1172.6l-2.7 0.6M56.2 1060.6l2.8 0.9M56.2 1060.6l-1.7 -0.9M145.1 1085.5l-2.4 -1.8M145.1 1085.5l1.9 -1.9M145.1 1085.5l1.4 3.2M166.3 1056.9l-1.5 -0.5M166.3 1056.9l2.3 0.3M107.5 1038.4l-2.6 -1.5M179.5 1143.7l0.8 3.2M179.5 1143.7l0.5 -2.3M110.1 1110.7l1.3 -1.2M110.1 1110.7l-1.2 1.6M86.1 1080.2l-0.5 -1.8M86.1 1080.2l0.3 2.7M115.2 1107.1l3.3 -0.8M115.2 1107.1l-2.7 1.9M164.7 1027.2l1.3 -2.1M126.0 1119.2l-1.6 2.8M90.5 1017.7l1.4 -1.2M90.5 1017.7l-2.2 0.3M62.0 1120.6l0.7 1.4M62.0 1120.6l-1.8 -1.9M62.0 1120.6l1.9 -1.2M51.8 1075.8l-1.3 -1.6M51.8 1075.8l2.3 -0.1M51.8 1075.8l-1.2 1.2M75.2 1110.6l0.2 2.4M60.3 1126.0l-2.8 -1.4M60.3 1126.0l2.6 0.8M139.0 1082.2l1.6 -0.1M175.1 1005.3l-3.1 -0.2M140.0 1004.8l-1.9 -0.9M140.0 1004.8l2.1 -0.0M170.4 1101.8l-1.3 -1.3M170.4 1101.8l1.8 1.0M148.6 1044.2l1.0 -2.1M148.6 1044.2l-0.9 2.0M168.6 1098.9l-1.4 0.7M168.6 1098.9l0.3 -3.1M168.6 1098.9l1.8 0.9M128.2 1120.2l-1.5 1.6M128.2 1120.2l-2.1 -1.5M128.2 1120.2l2.4 -0.8M30.3 1074.4l-1.0 2.8M30.3 1074.4l2.7 -1.6M170.9 1087.8l-1.2 -2.2M170.9 1087.8l2.4 0.6M170.9 1087.8l-1.8 1.3" stroke="#0000f0" stroke-width="1.1" stroke-linecap="round" fill="none"/><ellipse cx="81" cy="1060" rx="2.6" ry="4" fill="#0000f0" stroke="#00e040" stroke-width="0.8" transform="rotate(30 81 1060)"/><ellipse cx="81" cy="1060" rx="0.8" ry="1.8" fill="#fff" transform="rotate(30 81 1060)"/><ellipse cx="114" cy="1052" rx="2.5" ry="3.5" fill="#0000f0" stroke="#00e040" stroke-width="0.8" transform="rotate(20 114 1052)"/><ellipse cx="114" cy="1052" rx="0.8" ry="1.5" fill="#fff" transform="rotate(20 114 1052)"/><ellipse cx="146" cy="1053" rx="2.2" ry="3.5" fill="#0000f0" stroke="#00e040" stroke-width="0.8" transform="rotate(0 146 1053)"/><ellipse cx="146" cy="1053" rx="0.6" ry="1.5" fill="#fff" transform="rotate(0 146 1053)"/><ellipse cx="134" cy="1076" rx="3.5" ry="5" fill="#0000f0" stroke="#00e040" stroke-width="0.8" transform="rotate(-30 134 1076)"/><ellipse cx="134" cy="1076" rx="1.2" ry="2.4" fill="#fff" transform="rotate(-30 134 1076)"/><ellipse cx="140" cy="1082" rx="3" ry="6" fill="#0000f0" stroke="#00e040" stroke-width="0.8" transform="rotate(60 140 1082)"/><ellipse cx="140" cy="1082" rx="1.0" ry="3.0" fill="#fff" transform="rotate(60 140 1082)"/><ellipse cx="159" cy="1124" rx="2.4" ry="4" fill="#0000f0" stroke="#00e040" stroke-width="0.8" transform="rotate(30 159 1124)"/><ellipse cx="159" cy="1124" rx="0.7" ry="1.8" fill="#fff" transform="rotate(30 159 1124)"/><ellipse cx="107" cy="1118" rx="4" ry="2.2" fill="#0000f0" stroke="#00e040" stroke-width="0.8" transform="rotate(0 107 1118)"/><ellipse cx="107" cy="1118" rx="1.5" ry="0.7" fill="#fff" transform="rotate(0 107 1118)"/><ellipse cx="172" cy="1038" rx="3" ry="2.5" fill="#0000f0" stroke="#00e040" stroke-width="0.8" transform="rotate(0 172 1038)"/><ellipse cx="172" cy="1038" rx="1.0" ry="0.9" fill="#fff" transform="rotate(0 172 1038)"/></g>
</svg>
</body></html>
